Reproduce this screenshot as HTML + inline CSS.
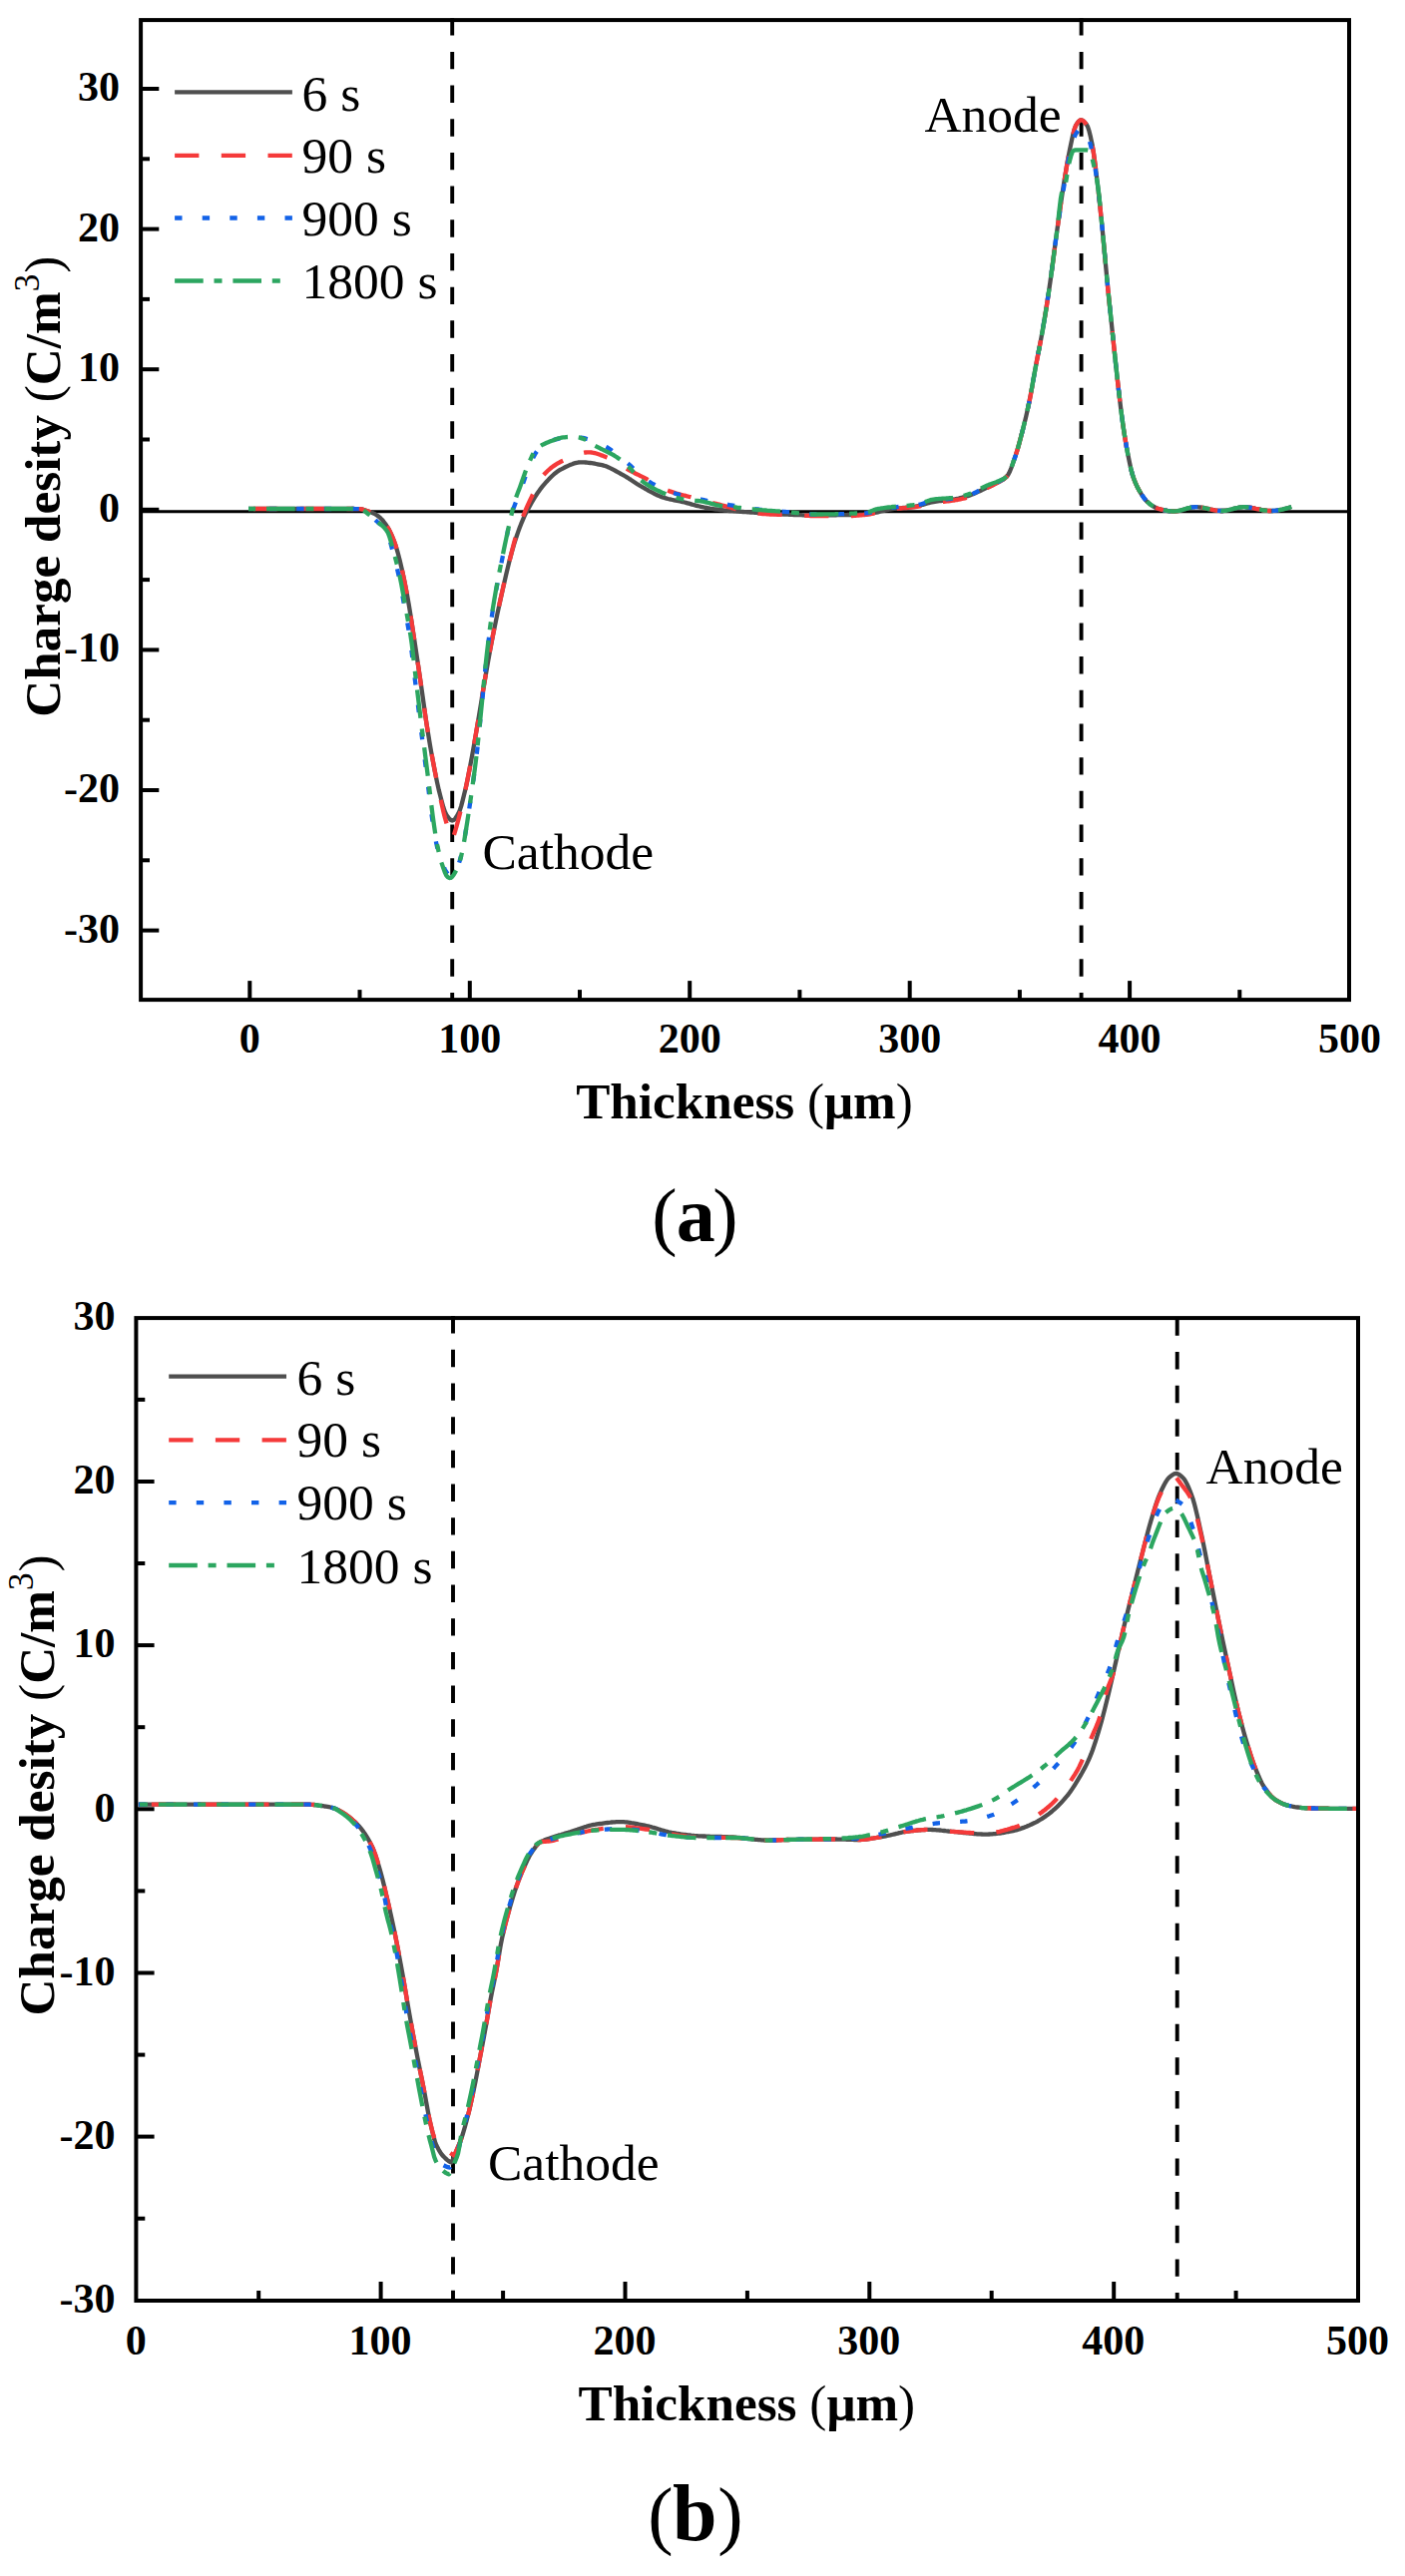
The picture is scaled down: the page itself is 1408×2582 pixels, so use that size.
<!DOCTYPE html>
<html lang="en"><head><meta charset="utf-8"><title>Charge density vs thickness</title>
<style>html,body{margin:0;padding:0;background:#fff}svg{display:block}text{font-family:"Liberation Serif","DejaVu Serif",serif;fill:#000}.tk{font-weight:bold;font-size:42px}.ax{font-weight:bold;font-size:51.2px}.ay{font-weight:bold;font-size:51.2px}.rg{font-weight:normal}.lg{font-size:51.5px}.cap{font-size:76px}</style>
</head><body>
<svg width="1408" height="2582" viewBox="0 0 1408 2582">
<rect width="1408" height="2582" fill="#fff"/>
<g id="chartA">
<line x1="141.1" y1="512.7" x2="1352.0" y2="512.7" stroke="#000" stroke-width="3.1"/>
<line x1="453.2" y1="18.2" x2="453.2" y2="1002.1" stroke="#000" stroke-width="3.9" stroke-dasharray="17.4 16.28"/>
<line x1="1083.6" y1="18.2" x2="1083.6" y2="1002.1" stroke="#000" stroke-width="3.9" stroke-dasharray="17.4 16.28"/>
<path d="M249.0 510.0L250.5 510.0L252.0 510.0L253.5 510.0L255.0 510.0L256.5 510.0L258.0 510.0L259.5 510.0L261.0 510.0L262.5 510.0L264.0 510.0L265.5 510.0L267.0 510.0L268.5 510.0L270.0 510.0L271.5 510.0L273.0 510.0L274.5 510.0L276.0 510.0L277.5 510.0L279.0 510.0L280.5 510.0L282.0 510.0L283.5 510.0L285.0 510.0L286.5 510.0L288.0 510.0L289.5 510.0L291.0 510.0L292.6 510.0L294.1 510.0L295.6 510.0L297.1 510.0L298.6 510.0L300.1 510.0L301.6 510.0L303.1 510.0L304.6 510.0L306.1 510.0L307.6 510.0L309.1 510.0L310.6 510.0L312.1 510.0L313.6 510.0L315.1 510.0L316.6 510.0L318.1 510.0L319.6 510.0L321.1 510.0L322.6 510.0L324.1 510.0L325.6 510.0L327.1 510.0L328.6 510.0L330.1 510.0L331.6 510.0L333.1 510.0L334.6 510.0L336.1 510.0L337.6 510.0L339.1 510.0L340.6 510.0L342.1 510.0L343.6 510.0L345.1 510.0L346.6 510.0L348.1 510.0L349.6 510.0L351.1 510.0L352.6 510.0L354.1 510.0L355.6 510.1L357.1 510.1L358.6 510.1L360.1 510.2L361.6 510.3L363.1 510.5L364.6 511.0L366.1 511.5L367.6 512.0L369.1 512.5L370.6 513.0L372.1 513.6L373.6 514.2L375.1 514.9L376.6 515.7L378.1 516.7L379.6 517.8L381.2 519.2L382.7 520.7L384.2 522.5L385.7 524.5L387.2 526.6L388.7 528.9L390.2 531.6L391.7 534.6L393.2 538.1L394.7 541.8L396.2 545.9L397.7 550.6L399.2 556.0L400.7 561.9L402.2 568.2L403.7 574.8L405.2 581.9L406.7 589.5L408.2 597.4L409.7 605.9L411.2 615.0L412.7 624.7L414.2 634.6L415.7 644.4L417.2 654.3L418.7 664.4L420.2 674.5L421.7 684.8L423.2 695.3L424.7 706.1L426.2 716.7L427.7 726.8L429.2 736.2L430.7 745.3L432.2 754.0L433.7 762.2L435.2 770.0L436.7 777.7L438.2 784.9L439.7 791.6L441.2 797.5L442.7 803.4L444.2 808.8L445.7 813.3L447.2 816.4L448.7 818.6L450.2 820.5L451.7 821.9L453.2 822.5L454.7 822.0L456.2 820.5L457.7 818.3L459.2 815.6L460.7 812.5L462.2 807.9L463.7 802.1L465.2 795.9L466.8 789.5L468.3 782.6L469.8 775.0L471.3 767.1L472.8 759.1L474.3 750.9L475.8 742.3L477.3 733.5L478.8 724.7L480.3 715.7L481.8 706.5L483.3 697.3L484.8 688.2L486.3 679.4L487.8 670.6L489.3 661.9L490.8 653.5L492.3 645.5L493.8 637.8L495.3 630.4L496.8 623.1L498.3 615.9L499.8 608.9L501.3 602.0L502.8 595.3L504.3 588.6L505.8 582.0L507.3 575.5L508.8 569.2L510.3 563.1L511.8 557.4L513.3 551.9L514.8 546.7L516.3 541.7L517.8 537.2L519.3 532.9L520.8 528.8L522.3 524.9L523.8 521.3L525.3 517.9L526.8 514.7L528.3 511.8L529.8 509.1L531.3 506.4L532.8 503.8L534.3 501.2L535.8 498.7L537.3 496.3L538.8 494.0L540.3 491.9L541.8 489.8L543.3 487.9L544.8 486.1L546.3 484.4L547.8 482.7L549.3 481.1L550.8 479.5L552.3 478.0L553.9 476.5L555.4 475.2L556.9 473.9L558.4 472.8L559.9 471.7L561.4 470.8L562.9 470.1L564.4 469.3L565.9 468.5L567.4 467.8L568.9 467.1L570.4 466.4L571.9 465.7L573.4 465.2L574.9 464.6L576.4 464.2L577.9 463.8L579.4 463.5L580.9 463.4L582.4 463.3L583.9 463.3L585.4 463.4L586.9 463.5L588.4 463.6L589.9 463.8L591.4 464.0L592.9 464.2L594.4 464.4L595.9 464.7L597.4 465.0L598.9 465.3L600.4 465.6L601.9 465.9L603.4 466.2L604.9 466.6L606.4 467.0L607.9 467.6L609.4 468.2L610.9 468.9L612.4 469.6L613.9 470.4L615.4 471.2L616.9 472.0L618.4 472.8L619.9 473.6L621.4 474.5L622.9 475.3L624.4 476.1L625.9 477.0L627.4 477.9L628.9 478.8L630.4 479.8L631.9 480.7L633.4 481.7L634.9 482.7L636.4 483.7L637.9 484.7L639.4 485.7L641.0 486.6L642.5 487.5L644.0 488.4L645.5 489.2L647.0 490.1L648.5 490.9L650.0 491.8L651.5 492.6L653.0 493.4L654.5 494.2L656.0 495.0L657.5 495.7L659.0 496.5L660.5 497.1L662.0 497.7L663.5 498.3L665.0 498.7L666.5 499.2L668.0 499.6L669.5 500.0L671.0 500.3L672.5 500.7L674.0 501.0L675.5 501.3L677.0 501.6L678.5 501.9L680.0 502.2L681.5 502.5L683.0 502.8L684.5 503.2L686.0 503.5L687.5 503.9L689.0 504.3L690.5 504.7L692.0 505.1L693.5 505.6L695.0 506.0L696.5 506.4L698.0 506.8L699.5 507.2L701.0 507.5L702.5 507.9L704.0 508.2L705.5 508.5L707.0 508.8L708.5 509.0L710.0 509.3L711.5 509.6L713.0 509.8L714.5 510.0L716.0 510.3L717.5 510.5L719.0 510.7L720.5 510.9L722.0 511.1L723.5 511.2L725.0 511.4L726.5 511.6L728.1 511.7L729.6 511.8L731.1 512.0L732.6 512.1L734.1 512.2L735.6 512.3L737.1 512.4L738.6 512.5L740.1 512.6L741.6 512.8L743.1 512.9L744.6 513.0L746.1 513.1L747.6 513.2L749.1 513.3L750.6 513.4L752.1 513.5L753.6 513.6L755.1 513.7L756.6 513.8L758.1 513.9L759.6 514.0L761.1 514.1L762.6 514.2L764.1 514.3L765.6 514.4L767.1 514.5L768.6 514.6L770.1 514.6L771.6 514.7L773.1 514.8L774.6 514.9L776.1 515.0L777.6 515.1L779.1 515.1L780.6 515.2L782.1 515.3L783.6 515.4L785.1 515.5L786.6 515.5L788.1 515.6L789.6 515.7L791.1 515.8L792.6 515.8L794.1 515.9L795.6 516.0L797.1 516.0L798.6 516.1L800.1 516.1L801.6 516.2L803.1 516.2L804.6 516.3L806.1 516.3L807.6 516.3L809.1 516.4L810.6 516.4L812.1 516.4L813.6 516.4L815.2 516.4L816.7 516.4L818.2 516.4L819.7 516.4L821.2 516.4L822.7 516.4L824.2 516.4L825.7 516.4L827.2 516.4L828.7 516.3L830.2 516.3L831.7 516.3L833.2 516.3L834.7 516.3L836.2 516.3L837.7 516.3L839.2 516.2L840.7 516.2L842.2 516.2L843.7 516.2L845.2 516.1L846.7 516.1L848.2 516.1L849.7 516.0L851.2 516.0L852.7 516.0L854.2 515.9L855.7 515.9L857.2 515.9L858.7 515.8L860.2 515.8L861.7 515.7L863.2 515.7L864.7 515.7L866.2 515.6L867.7 515.5L869.2 515.4L870.7 515.2L872.2 515.0L873.7 514.7L875.2 514.4L876.7 514.0L878.2 513.7L879.7 513.3L881.2 512.9L882.7 512.5L884.2 512.1L885.7 511.8L887.2 511.4L888.7 511.1L890.2 510.8L891.7 510.5L893.2 510.3L894.7 510.1L896.2 509.9L897.7 509.8L899.2 509.6L900.7 509.5L902.3 509.3L903.8 509.2L905.3 509.0L906.8 508.9L908.3 508.7L909.8 508.6L911.3 508.4L912.8 508.2L914.3 508.0L915.8 507.8L917.3 507.6L918.8 507.3L920.3 507.0L921.8 506.7L923.3 506.3L924.8 505.8L926.3 505.4L927.8 505.0L929.3 504.5L930.8 504.1L932.3 503.7L933.8 503.4L935.3 503.1L936.8 502.8L938.3 502.6L939.8 502.4L941.3 502.2L942.8 502.1L944.3 501.9L945.8 501.8L947.3 501.6L948.8 501.5L950.3 501.3L951.8 501.1L953.3 500.9L954.8 500.7L956.3 500.5L957.8 500.2L959.3 499.9L960.8 499.6L962.3 499.2L963.8 498.8L965.3 498.4L966.8 498.0L968.3 497.5L969.8 497.1L971.3 496.6L972.8 496.1L974.3 495.5L975.8 494.9L977.3 494.3L978.8 493.6L980.3 492.9L981.8 492.2L983.3 491.5L984.8 490.7L986.3 490.0L987.8 489.3L989.4 488.6L990.9 487.9L992.4 487.2L993.9 486.5L995.4 485.8L996.9 485.1L998.4 484.4L999.9 483.6L1001.4 482.8L1002.9 482.0L1004.4 481.1L1005.9 480.2L1007.4 479.0L1008.9 477.6L1010.4 475.6L1011.9 472.7L1013.4 469.0L1014.9 464.9L1016.4 460.5L1017.9 456.2L1019.4 451.5L1020.9 446.3L1022.4 440.7L1023.9 435.0L1025.4 429.1L1026.9 423.1L1028.4 416.7L1029.9 410.1L1031.4 403.0L1032.9 395.3L1034.4 387.1L1035.9 378.6L1037.4 370.2L1038.9 362.1L1040.4 354.4L1041.9 346.7L1043.4 338.8L1044.9 330.5L1046.4 321.7L1047.9 312.6L1049.4 303.0L1050.9 293.2L1052.4 282.9L1053.9 271.9L1055.4 260.5L1056.9 249.0L1058.4 237.8L1059.9 226.9L1061.4 216.0L1062.9 205.3L1064.4 195.1L1065.9 185.4L1067.4 176.0L1068.9 166.9L1070.4 158.4L1071.9 150.7L1073.4 143.5L1074.9 136.4L1076.5 130.3L1078.0 126.0L1079.5 123.6L1081.0 121.6L1082.5 120.4L1084.0 120.3L1085.5 121.1L1087.0 122.5L1088.5 124.4L1090.0 126.8L1091.5 131.4L1093.0 137.6L1094.5 144.7L1096.0 153.7L1097.5 164.7L1099.0 176.9L1100.5 189.4L1102.0 203.1L1103.5 217.7L1105.0 232.7L1106.5 248.6L1108.0 265.1L1109.5 281.3L1111.0 296.4L1112.5 311.0L1114.0 325.4L1115.5 339.7L1117.0 354.1L1118.5 368.2L1120.0 381.8L1121.5 394.9L1123.0 407.7L1124.5 419.5L1126.0 430.0L1127.5 439.6L1129.0 448.4L1130.5 456.4L1132.0 463.8L1133.5 470.6L1135.0 476.3L1136.5 480.7L1138.0 484.4L1139.5 487.7L1141.0 490.6L1142.5 493.2L1144.0 495.6L1145.5 497.8L1147.0 499.9L1148.5 501.7L1150.0 503.2L1151.5 504.5L1153.0 505.7L1154.5 506.7L1156.0 507.7L1157.5 508.5L1159.0 509.2L1160.5 509.8L1162.0 510.2L1163.6 510.6L1165.1 510.9L1166.6 511.3L1168.1 511.6L1169.6 511.9L1171.1 512.1L1172.6 512.3L1174.1 512.4L1175.6 512.5L1177.1 512.5L1178.6 512.4L1180.1 512.2L1181.6 511.9L1183.1 511.5L1184.6 511.1L1186.1 510.7L1187.6 510.2L1189.1 509.8L1190.6 509.4L1192.1 509.0L1193.6 508.7L1195.1 508.4L1196.6 508.3L1198.1 508.2L1199.6 508.2L1201.1 508.3L1202.6 508.5L1204.1 508.7L1205.6 509.0L1207.1 509.2L1208.6 509.5L1210.1 509.8L1211.6 510.2L1213.1 510.5L1214.6 510.8L1216.1 511.1L1217.6 511.4L1219.1 511.6L1220.6 511.8L1222.1 511.9L1223.6 512.0L1225.1 512.0L1226.6 511.9L1228.1 511.7L1229.6 511.5L1231.1 511.2L1232.6 510.8L1234.1 510.5L1235.6 510.1L1237.1 509.7L1238.6 509.3L1240.1 509.0L1241.6 508.7L1243.1 508.4L1244.6 508.3L1246.1 508.2L1247.6 508.2L1249.1 508.3L1250.7 508.5L1252.2 508.6L1253.7 508.9L1255.2 509.2L1256.7 509.4L1258.2 509.8L1259.7 510.1L1261.2 510.4L1262.7 510.7L1264.2 511.0L1265.7 511.3L1267.2 511.5L1268.7 511.7L1270.2 511.9L1271.7 512.0L1273.2 512.0L1274.7 512.0L1276.2 511.9L1277.7 511.8L1279.2 511.6L1280.7 511.4L1282.2 511.2L1283.7 510.9L1285.2 510.6L1286.7 510.2L1288.2 509.8L1289.7 509.4L1291.2 509.0L1292.7 508.5L1294.2 508.0" fill="none" stroke="#4F4F4F" stroke-width="4.3" stroke-linejoin="round"/>
<path d="M249.0 510.0L250.5 510.0L252.0 510.0L253.5 510.0L255.0 510.0L256.5 510.0L258.0 510.0L259.5 510.0L261.0 510.0L262.5 510.0L264.0 510.0L265.5 510.0L267.0 510.0L268.5 510.0L270.0 510.0L271.5 510.0L273.0 510.0L274.6 510.0L276.1 510.0L277.6 510.0L279.1 510.0L280.6 510.0L282.1 510.0L283.6 510.0L285.1 510.0L286.6 510.0L288.1 510.0L289.6 510.0L291.1 510.0L292.6 510.0L294.1 510.0L295.6 510.0L297.1 510.0L298.6 510.0L300.1 510.0L301.6 510.0L303.1 510.0L304.6 510.0L306.1 510.0L307.6 510.0L309.1 510.0L310.6 510.0L312.1 510.0L313.6 510.0L315.1 510.0L316.6 510.0L318.1 510.0L319.6 510.0L321.1 510.0L322.6 510.0L324.1 510.0L325.6 510.0L327.2 510.0L328.7 510.0L330.2 510.0L331.7 510.0L333.2 510.0L334.7 510.0L336.2 510.0L337.7 510.0L339.2 510.0L340.7 510.0L342.2 510.0L343.7 510.0L345.2 510.0L346.7 510.0L348.2 510.0L349.7 510.0L351.2 510.0L352.7 510.0L354.2 510.0L355.7 510.1L357.2 510.1L358.7 510.2L360.2 510.2L361.7 510.3L363.2 510.5L364.7 511.0L366.2 511.6L367.7 512.0L369.2 512.5L370.7 513.0L372.2 513.6L373.7 514.2L375.2 515.0L376.8 515.8L378.3 516.8L379.8 517.9L381.3 519.3L382.8 520.9L384.3 522.7L385.8 524.6L387.3 526.8L388.8 529.1L390.3 531.8L391.8 534.9L393.3 538.3L394.8 542.1L396.3 546.2L397.8 551.0L399.3 556.5L400.8 562.4L402.3 568.7L403.8 575.4L405.3 582.5L406.8 590.1L408.3 598.2L409.8 606.7L411.3 615.9L412.8 625.6L414.3 635.5L415.8 645.3L417.3 655.2L418.8 665.3L420.3 675.5L421.8 685.7L423.3 696.3L424.8 707.1L426.3 717.7L427.8 727.7L429.4 737.1L430.9 746.1L432.4 754.7L433.9 762.9L435.4 770.9L436.9 778.6L438.4 786.0L439.9 793.2L441.4 800.1L442.9 807.1L444.4 813.7L445.9 819.6L447.4 824.8L448.9 829.7L450.4 834.1L451.9 838.2L453.4 841.6L454.9 837.0L456.4 832.1L457.9 826.8L459.4 821.4L460.9 815.5L462.4 809.4L463.9 802.9L465.4 796.2L466.9 789.2L468.4 781.8L469.9 774.2L471.4 766.3L472.9 758.2L474.4 749.9L475.9 741.3L477.4 732.6L478.9 723.8L480.4 714.8L481.9 705.6L483.4 696.3L484.9 687.3L486.4 678.4L487.9 669.7L489.4 661.0L490.9 652.7L492.4 644.7L493.9 637.0L495.4 629.6L496.9 622.3L498.4 615.2L499.9 608.2L501.4 601.3L502.9 594.6L504.4 587.9L505.9 581.4L507.5 575.0L509.0 568.7L510.5 562.6L512.0 556.5L513.5 550.4L515.0 544.5L516.5 539.1L518.0 534.3L519.5 529.8L521.0 525.7L522.5 521.7L524.0 517.9L525.5 514.2L527.0 510.6L528.5 507.2L530.0 503.9L531.5 500.7L533.0 497.6L534.5 494.4L536.0 491.2L537.5 488.0L539.0 485.0L540.5 482.2L542.0 479.6L543.5 477.5L545.0 475.8L546.5 474.2L548.0 472.7L549.5 471.3L551.0 470.0L552.5 468.8L554.0 467.6L555.5 466.6L557.0 465.6L558.5 464.7L560.0 463.8L561.5 463.0L563.0 462.3L564.5 461.6L566.0 460.8L567.5 460.1L569.0 459.4L570.5 458.7L572.0 458.0L573.5 457.4L575.0 456.8L576.5 456.2L578.0 455.6L579.5 455.1L581.0 454.7L582.5 454.3L584.0 454.0L585.5 453.7L587.0 453.5L588.5 453.4L590.0 453.3L591.5 453.3L593.0 453.5L594.5 453.8L596.0 454.1L597.5 454.5L599.0 455.0L600.5 455.5L602.0 456.1L603.5 456.6L605.0 457.2L606.5 457.8L608.0 458.4L609.5 459.0L611.0 459.6L612.6 460.4L614.1 461.2L615.6 462.0L617.1 462.9L618.6 463.8L620.1 464.7L621.6 465.6L623.1 466.6L624.6 467.5L626.1 468.5L627.6 469.4L629.1 470.4L630.6 471.3L632.1 472.1L633.6 472.9L635.1 473.7L636.6 474.5L638.1 475.2L639.6 475.9L641.1 476.7L642.6 477.4L644.1 478.1L645.6 478.9L647.1 479.7L648.6 480.5L650.1 481.4L651.6 482.2L653.1 483.1L654.6 484.0L656.1 484.8L657.6 485.7L659.1 486.6L660.6 487.4L662.1 488.2L663.6 489.0L665.1 489.7L666.6 490.5L668.1 491.2L669.6 491.8L671.1 492.4L672.6 492.9L674.1 493.4L675.6 493.9L677.1 494.4L678.6 494.8L680.1 495.2L681.6 495.6L683.1 496.0L684.6 496.4L686.1 496.7L687.6 497.1L689.1 497.5L690.6 497.9L692.1 498.2L693.6 498.6L695.1 499.0L696.6 499.4L698.1 499.8L699.6 500.2L701.1 500.6L702.6 501.0L704.1 501.4L705.6 501.8L707.1 502.2L708.6 502.6L710.1 503.0L711.6 503.4L713.1 503.8L714.6 504.2L716.1 504.5L717.7 504.9L719.2 505.3L720.7 505.7L722.2 506.1L723.7 506.5L725.2 506.9L726.7 507.3L728.2 507.7L729.7 508.1L731.2 508.5L732.7 508.9L734.2 509.3L735.7 509.7L737.2 510.2L738.7 510.5L740.2 510.9L741.7 511.3L743.2 511.6L744.7 511.9L746.2 512.2L747.7 512.5L749.2 512.8L750.7 513.1L752.2 513.4L753.7 513.6L755.2 513.9L756.7 514.1L758.2 514.4L759.7 514.6L761.2 514.7L762.7 514.9L764.2 515.0L765.7 515.1L767.2 515.2L768.7 515.3L770.2 515.4L771.7 515.5L773.2 515.5L774.7 515.6L776.2 515.7L777.7 515.7L779.2 515.8L780.7 515.8L782.2 515.9L783.7 515.9L785.2 516.0L786.7 516.1L788.2 516.1L789.7 516.2L791.2 516.3L792.7 516.3L794.2 516.4L795.7 516.4L797.2 516.5L798.7 516.5L800.2 516.6L801.7 516.7L803.2 516.7L804.7 516.8L806.2 516.8L807.7 516.8L809.2 516.9L810.7 516.9L812.2 517.0L813.7 517.0L815.2 517.0L816.7 517.0L818.2 517.0L819.7 517.1L821.2 517.1L822.8 517.1L824.3 517.1L825.8 517.2L827.3 517.2L828.8 517.2L830.3 517.2L831.8 517.2L833.3 517.2L834.8 517.3L836.3 517.3L837.8 517.3L839.3 517.3L840.8 517.3L842.3 517.3L843.8 517.3L845.3 517.3L846.8 517.3L848.3 517.3L849.8 517.2L851.3 517.2L852.8 517.1L854.3 517.0L855.8 516.9L857.3 516.8L858.8 516.7L860.3 516.6L861.8 516.4L863.3 516.3L864.8 516.2L866.3 516.0L867.8 515.9L869.3 515.6L870.8 515.4L872.3 515.1L873.8 514.8L875.3 514.4L876.8 514.0L878.3 513.6L879.8 513.2L881.3 512.8L882.8 512.4L884.3 512.1L885.8 511.7L887.3 511.3L888.8 511.0L890.3 510.8L891.8 510.5L893.3 510.3L894.8 510.2L896.3 510.0L897.8 509.8L899.3 509.7L900.8 509.6L902.3 509.5L903.8 509.3L905.3 509.2L906.8 509.1L908.3 509.0L909.8 508.9L911.3 508.7L912.8 508.6L914.3 508.4L915.8 508.3L917.3 508.1L918.8 507.8L920.3 507.6L921.8 507.3L923.3 506.9L924.8 506.5L926.4 506.1L927.9 505.8L929.4 505.4L930.9 505.0L932.4 504.6L933.9 504.3L935.4 504.1L936.9 503.8L938.4 503.6L939.9 503.4L941.4 503.2L942.9 503.1L944.4 502.9L945.9 502.8L947.4 502.6L948.9 502.4L950.4 502.3L951.9 502.1L953.4 501.9L954.9 501.7L956.4 501.5L957.9 501.2L959.4 501.0L960.9 500.7L962.4 500.4L963.9 500.0L965.4 499.7L966.9 499.3L968.4 498.9L969.9 498.5L971.4 498.1L972.9 497.6L974.4 497.0L975.9 496.3L977.4 495.6L978.9 494.8L980.4 494.0L981.9 493.2L983.4 492.4L984.9 491.5L986.4 490.7L987.9 489.8L989.4 489.0L990.9 488.3L992.4 487.5L993.9 486.8L995.4 486.0L996.9 485.2L998.4 484.4L999.9 483.5L1001.4 482.7L1002.9 481.9L1004.4 481.1L1005.9 480.1L1007.4 479.0L1008.9 477.6L1010.4 475.5L1011.9 472.5L1013.4 468.9L1014.9 464.7L1016.4 460.4L1017.9 456.0L1019.4 451.3L1020.9 446.1L1022.4 440.5L1023.9 434.8L1025.4 428.9L1026.9 422.9L1028.4 416.5L1029.9 409.8L1031.5 402.8L1033.0 395.1L1034.5 386.8L1036.0 378.3L1037.5 369.9L1039.0 361.9L1040.5 354.1L1042.0 346.5L1043.5 338.6L1045.0 330.2L1046.5 321.4L1048.0 312.3L1049.5 302.7L1051.0 292.8L1052.5 282.5L1054.0 271.5L1055.5 260.1L1057.0 248.7L1058.5 237.5L1060.0 226.6L1061.5 215.7L1063.0 205.0L1064.5 194.8L1066.0 185.1L1067.5 175.7L1069.0 166.7L1070.5 158.2L1072.0 150.5L1073.5 143.3L1075.0 136.2L1076.5 130.1L1078.0 126.0L1079.5 123.5L1081.0 121.6L1082.5 120.4L1084.0 120.3L1085.5 121.1L1087.0 122.5L1088.5 124.5L1090.0 126.9L1091.5 131.5L1093.0 137.8L1094.5 144.9L1096.0 153.9L1097.5 165.0L1099.0 177.2L1100.5 189.8L1102.0 203.5L1103.5 218.0L1105.0 233.0L1106.5 249.0L1108.0 265.6L1109.5 281.7L1111.0 296.8L1112.5 311.4L1114.0 325.7L1115.5 340.0L1117.0 354.4L1118.5 368.6L1120.0 382.1L1121.5 395.2L1123.0 408.0L1124.5 419.7L1126.0 430.2L1127.5 439.8L1129.0 448.6L1130.5 456.5L1132.0 464.0L1133.5 470.8L1135.0 476.4L1136.6 480.8L1138.1 484.5L1139.6 487.8L1141.1 490.6L1142.6 493.2L1144.1 495.6L1145.6 497.9L1147.1 499.9L1148.6 501.7L1150.1 503.3L1151.6 504.5L1153.1 505.7L1154.6 506.7L1156.1 507.7L1157.6 508.5L1159.1 509.2L1160.6 509.8L1162.1 510.2L1163.6 510.6L1165.1 511.0L1166.6 511.3L1168.1 511.6L1169.6 511.9L1171.1 512.1L1172.6 512.3L1174.1 512.4L1175.6 512.5L1177.1 512.5L1178.6 512.4L1180.1 512.2L1181.6 511.9L1183.1 511.5L1184.6 511.1L1186.1 510.7L1187.6 510.2L1189.1 509.8L1190.6 509.4L1192.1 509.0L1193.6 508.7L1195.1 508.4L1196.6 508.3L1198.1 508.2L1199.6 508.2L1201.1 508.3L1202.6 508.5L1204.1 508.7L1205.6 509.0L1207.1 509.2L1208.6 509.5L1210.1 509.8L1211.6 510.2L1213.1 510.5L1214.6 510.8L1216.1 511.1L1217.6 511.4L1219.1 511.6L1220.6 511.8L1222.1 511.9L1223.6 512.0L1225.1 512.0L1226.6 511.9L1228.1 511.7L1229.6 511.5L1231.1 511.2L1232.6 510.8L1234.1 510.5L1235.6 510.1L1237.1 509.7L1238.6 509.3L1240.1 509.0L1241.7 508.7L1243.2 508.4L1244.7 508.3L1246.2 508.2L1247.7 508.2L1249.2 508.3L1250.7 508.5L1252.2 508.6L1253.7 508.9L1255.2 509.2L1256.7 509.4L1258.2 509.8L1259.7 510.1L1261.2 510.4L1262.7 510.7L1264.2 511.0L1265.7 511.3L1267.2 511.5L1268.7 511.7L1270.2 511.9L1271.7 512.0L1273.2 512.0L1274.7 512.0L1276.2 511.9L1277.7 511.8L1279.2 511.6L1280.7 511.4L1282.2 511.2L1283.7 510.9L1285.2 510.6L1286.7 510.2L1288.2 509.8L1289.7 509.4L1291.2 509.0L1292.7 508.5L1294.2 508.0" fill="none" stroke="#F53A3A" stroke-width="4.3" stroke-dasharray="24.3 22.4" stroke-dashoffset="-5" stroke-linejoin="round"/>
<path d="M249.0 510.0L250.5 510.0L252.0 510.0L253.5 510.0L255.0 510.0L256.5 510.0L258.0 510.0L259.5 510.0L261.0 510.0L262.5 510.0L264.0 510.0L265.5 510.0L267.0 510.0L268.5 510.0L270.0 510.0L271.5 510.0L273.0 510.0L274.5 510.0L276.0 510.0L277.5 510.0L279.0 510.0L280.5 510.0L282.0 510.0L283.5 510.0L285.0 510.0L286.5 510.0L288.0 510.0L289.5 510.0L291.0 510.0L292.6 510.0L294.1 510.0L295.6 510.0L297.1 510.0L298.6 510.0L300.1 510.0L301.6 510.0L303.1 510.0L304.6 510.0L306.1 510.0L307.6 510.0L309.1 510.0L310.6 510.0L312.1 510.0L313.6 510.0L315.1 510.0L316.6 510.0L318.1 510.0L319.6 510.0L321.1 510.0L322.6 510.0L324.1 510.0L325.6 510.0L327.1 510.0L328.6 510.0L330.1 510.0L331.6 510.0L333.1 510.0L334.6 510.0L336.1 510.0L337.6 510.0L339.1 510.0L340.6 510.0L342.1 510.0L343.6 510.0L345.1 510.0L346.6 510.0L348.1 510.0L349.6 510.0L351.1 510.0L352.6 510.0L354.1 510.0L355.6 510.1L357.1 510.1L358.6 510.1L360.1 510.2L361.6 510.3L363.1 510.6L364.6 511.5L366.1 512.8L367.6 514.0L369.1 515.1L370.6 516.3L372.1 517.6L373.6 518.9L375.1 520.3L376.6 521.7L378.1 523.0L379.6 524.3L381.2 525.6L382.7 526.9L384.2 528.5L385.7 530.3L387.2 532.4L388.7 535.5L390.2 540.0L391.7 545.5L393.2 551.2L394.7 556.8L396.2 562.6L397.7 568.7L399.2 575.3L400.7 582.4L402.2 590.4L403.7 598.9L405.2 607.5L406.7 615.8L408.2 624.0L409.7 632.7L411.2 642.5L412.7 654.1L414.2 667.1L415.7 680.0L417.2 692.5L418.7 705.0L420.2 717.4L421.7 729.5L423.2 741.4L424.7 753.3L426.2 765.2L427.7 777.1L429.2 789.3L430.7 802.1L432.2 814.1L433.7 824.7L435.2 834.6L436.7 842.8L438.2 849.4L439.7 855.0L441.2 859.8L442.7 863.9L444.2 867.7L445.7 871.2L447.2 874.0L448.7 875.8L450.2 876.8L451.7 877.6L453.2 878.0L454.7 877.2L456.2 874.7L457.7 871.2L459.2 867.4L460.7 862.9L462.2 857.4L463.7 850.9L465.2 842.4L466.8 832.8L468.3 823.4L469.8 813.6L471.3 803.6L472.8 793.3L474.3 782.6L475.8 771.7L477.3 760.0L478.8 746.8L480.3 732.3L481.8 717.3L483.3 702.2L484.8 686.5L486.3 671.3L487.8 657.6L489.3 644.6L490.8 632.6L492.3 621.7L493.8 611.8L495.3 602.6L496.8 593.9L498.3 585.7L499.8 577.8L501.3 570.2L502.8 562.6L504.3 555.2L505.8 547.9L507.3 540.5L508.8 532.8L510.3 525.2L511.8 518.6L513.3 513.5L514.8 509.0L516.3 504.9L517.8 500.9L519.3 497.1L520.8 493.4L522.3 489.7L523.8 485.6L525.3 481.3L526.8 476.9L528.3 472.6L529.8 468.6L531.3 464.9L532.8 461.6L534.3 458.7L535.8 455.9L537.3 453.4L538.8 451.3L540.3 449.7L541.8 448.3L543.3 447.0L544.8 445.8L546.3 444.8L547.8 443.8L549.3 443.0L550.8 442.3L552.3 441.7L553.9 441.2L555.4 440.8L556.9 440.4L558.4 440.1L559.9 439.7L561.4 439.4L562.9 439.2L564.4 439.0L565.9 438.9L567.4 438.8L568.9 438.7L570.4 438.7L571.9 438.6L573.4 438.6L574.9 438.6L576.4 438.5L577.9 438.5L579.4 438.5L580.9 438.5L582.4 438.7L583.9 438.9L585.4 439.2L586.9 439.6L588.4 440.0L589.9 440.4L591.4 440.8L592.9 441.3L594.4 441.7L595.9 442.3L597.4 442.9L598.9 443.5L600.4 444.2L601.9 444.9L603.4 445.6L604.9 446.4L606.4 447.3L607.9 448.1L609.4 449.1L610.9 450.1L612.4 451.1L613.9 452.2L615.4 453.3L616.9 454.5L618.4 455.7L619.9 456.9L621.4 458.1L622.9 459.3L624.4 460.5L625.9 461.7L627.4 462.9L628.9 464.2L630.4 465.5L631.9 466.9L633.4 468.3L634.9 469.7L636.4 471.2L637.9 472.7L639.4 474.1L641.0 475.5L642.5 476.9L644.0 478.2L645.5 479.4L647.0 480.6L648.5 481.6L650.0 482.5L651.5 483.4L653.0 484.3L654.5 485.1L656.0 485.9L657.5 486.7L659.0 487.5L660.5 488.2L662.0 488.9L663.5 489.6L665.0 490.3L666.5 490.9L668.0 491.5L669.5 492.1L671.0 492.7L672.5 493.2L674.0 493.7L675.5 494.2L677.0 494.7L678.5 495.2L680.0 495.6L681.5 496.0L683.0 496.4L684.5 496.8L686.0 497.1L687.5 497.5L689.0 497.8L690.5 498.1L692.0 498.5L693.5 498.8L695.0 499.1L696.5 499.4L698.0 499.7L699.5 500.0L701.0 500.3L702.5 500.6L704.0 500.9L705.5 501.2L707.0 501.5L708.5 501.9L710.0 502.2L711.5 502.4L713.0 502.7L714.5 503.0L716.0 503.3L717.5 503.6L719.0 503.9L720.5 504.2L722.0 504.4L723.5 504.7L725.0 505.0L726.5 505.3L728.1 505.5L729.6 505.8L731.1 506.1L732.6 506.3L734.1 506.6L735.6 506.9L737.1 507.1L738.6 507.4L740.1 507.6L741.6 507.9L743.1 508.2L744.6 508.4L746.1 508.7L747.6 508.9L749.1 509.2L750.6 509.4L752.1 509.6L753.6 509.8L755.1 510.0L756.6 510.2L758.1 510.4L759.6 510.5L761.1 510.7L762.6 510.8L764.1 511.0L765.6 511.1L767.1 511.3L768.6 511.4L770.1 511.5L771.6 511.7L773.1 511.8L774.6 511.9L776.1 512.0L777.6 512.2L779.1 512.3L780.6 512.4L782.1 512.5L783.6 512.7L785.1 512.8L786.6 512.9L788.1 513.1L789.6 513.2L791.1 513.4L792.6 513.5L794.1 513.7L795.6 513.9L797.1 514.1L798.6 514.2L800.1 514.4L801.6 514.6L803.1 514.8L804.6 514.9L806.1 515.0L807.6 515.2L809.1 515.3L810.6 515.4L812.1 515.4L813.6 515.5L815.2 515.5L816.7 515.5L818.2 515.5L819.7 515.5L821.2 515.5L822.7 515.5L824.2 515.5L825.7 515.5L827.2 515.5L828.7 515.4L830.2 515.4L831.7 515.4L833.2 515.4L834.7 515.4L836.2 515.3L837.7 515.3L839.2 515.3L840.7 515.3L842.2 515.2L843.7 515.2L845.2 515.2L846.7 515.1L848.2 515.1L849.7 515.1L851.2 515.0L852.7 515.0L854.2 514.9L855.7 514.9L857.2 514.8L858.7 514.8L860.2 514.7L861.7 514.7L863.2 514.6L864.7 514.6L866.2 514.5L867.7 514.4L869.2 514.2L870.7 514.0L872.2 513.7L873.7 513.4L875.2 513.0L876.7 512.6L878.2 512.2L879.7 511.8L881.2 511.4L882.7 511.0L884.2 510.7L885.7 510.4L887.2 510.1L888.7 509.8L890.2 509.5L891.7 509.2L893.2 509.0L894.7 508.7L896.2 508.5L897.7 508.3L899.2 508.1L900.7 507.9L902.3 507.8L903.8 507.6L905.3 507.5L906.8 507.4L908.3 507.3L909.8 507.2L911.3 507.1L912.8 507.0L914.3 506.9L915.8 506.7L917.3 506.6L918.8 506.4L920.3 506.0L921.8 505.7L923.3 505.2L924.8 504.7L926.3 504.2L927.8 503.7L929.3 503.2L930.8 502.7L932.3 502.2L933.8 501.9L935.3 501.6L936.8 501.3L938.3 501.2L939.8 501.0L941.3 500.9L942.8 500.7L944.3 500.6L945.8 500.5L947.3 500.4L948.8 500.3L950.3 500.1L951.8 500.0L953.3 499.9L954.8 499.7L956.3 499.5L957.8 499.3L959.3 499.0L960.8 498.7L962.3 498.4L963.8 498.1L965.3 497.7L966.8 497.4L968.3 496.9L969.8 496.5L971.3 496.1L972.8 495.6L974.3 495.0L975.8 494.4L977.3 493.7L978.8 493.0L980.3 492.2L981.8 491.4L983.3 490.6L984.8 489.8L986.3 489.0L987.8 488.3L989.4 487.6L990.9 486.9L992.4 486.3L993.9 485.7L995.4 485.1L996.9 484.5L998.4 483.8L999.9 483.1L1001.4 482.3L1002.9 481.6L1004.4 480.9L1005.9 480.0L1007.4 478.9L1008.9 477.6L1010.4 475.7L1011.9 472.7L1013.4 469.1L1014.9 464.9L1016.4 460.5L1017.9 456.2L1019.4 451.5L1020.9 446.3L1022.4 440.7L1023.9 435.0L1025.4 429.1L1026.9 423.1L1028.4 416.7L1029.9 410.1L1031.4 403.0L1032.9 395.3L1034.4 387.1L1035.9 378.6L1037.4 370.2L1038.9 362.1L1040.4 354.4L1041.9 346.7L1043.4 338.8L1044.9 330.5L1046.4 321.7L1047.9 312.6L1049.4 303.0L1050.9 293.2L1052.4 282.9L1053.9 271.8L1055.4 260.2L1056.9 248.7L1058.4 237.8L1059.9 227.5L1061.4 217.5L1062.9 207.8L1064.4 198.4L1065.9 189.2L1067.4 179.9L1068.9 170.6L1070.4 161.9L1071.9 154.4L1073.4 148.2L1074.9 142.6L1076.5 137.8L1078.0 134.4L1079.5 132.2L1081.0 130.3L1082.5 129.2L1084.0 129.1L1085.5 129.9L1087.0 131.4L1088.5 133.3L1090.0 135.8L1091.5 140.2L1093.0 145.8L1094.5 152.0L1096.0 159.6L1097.5 168.5L1099.0 178.6L1100.5 189.7L1102.0 202.8L1103.5 217.6L1105.0 232.6L1106.5 248.6L1108.0 265.1L1109.5 281.3L1111.0 296.4L1112.5 311.0L1114.0 325.4L1115.5 339.7L1117.0 354.1L1118.5 368.2L1120.0 381.8L1121.5 394.9L1123.0 407.7L1124.5 419.5L1126.0 430.0L1127.5 439.6L1129.0 448.4L1130.5 456.4L1132.0 463.8L1133.5 470.6L1135.0 476.3L1136.5 480.7L1138.0 484.4L1139.5 487.7L1141.0 490.6L1142.5 493.2L1144.0 495.6L1145.5 497.8L1147.0 499.9L1148.5 501.7L1150.0 503.2L1151.5 504.5L1153.0 505.7L1154.5 506.7L1156.0 507.7L1157.5 508.5L1159.0 509.2L1160.5 509.8L1162.0 510.2L1163.6 510.6L1165.1 510.9L1166.6 511.3L1168.1 511.6L1169.6 511.9L1171.1 512.1L1172.6 512.3L1174.1 512.4L1175.6 512.5L1177.1 512.5L1178.6 512.4L1180.1 512.2L1181.6 511.9L1183.1 511.5L1184.6 511.1L1186.1 510.7L1187.6 510.2L1189.1 509.8L1190.6 509.4L1192.1 509.0L1193.6 508.7L1195.1 508.4L1196.6 508.3L1198.1 508.2L1199.6 508.2L1201.1 508.3L1202.6 508.5L1204.1 508.7L1205.6 509.0L1207.1 509.2L1208.6 509.5L1210.1 509.8L1211.6 510.2L1213.1 510.5L1214.6 510.8L1216.1 511.1L1217.6 511.4L1219.1 511.6L1220.6 511.8L1222.1 511.9L1223.6 512.0L1225.1 512.0L1226.6 511.9L1228.1 511.7L1229.6 511.5L1231.1 511.2L1232.6 510.8L1234.1 510.5L1235.6 510.1L1237.1 509.7L1238.6 509.3L1240.1 509.0L1241.6 508.7L1243.1 508.4L1244.6 508.3L1246.1 508.2L1247.6 508.2L1249.1 508.3L1250.7 508.5L1252.2 508.6L1253.7 508.9L1255.2 509.2L1256.7 509.4L1258.2 509.8L1259.7 510.1L1261.2 510.4L1262.7 510.7L1264.2 511.0L1265.7 511.3L1267.2 511.5L1268.7 511.7L1270.2 511.9L1271.7 512.0L1273.2 512.0L1274.7 512.0L1276.2 511.9L1277.7 511.8L1279.2 511.6L1280.7 511.4L1282.2 511.2L1283.7 510.9L1285.2 510.6L1286.7 510.2L1288.2 509.8L1289.7 509.4L1291.2 509.0L1292.7 508.5L1294.2 508.0" fill="none" stroke="#1262E8" stroke-width="4.3" stroke-dasharray="7.4 20.2" stroke-dashoffset="7" stroke-linejoin="round"/>
<path d="M249.0 510.0L250.5 510.0L252.0 510.0L253.5 510.0L255.0 510.0L256.5 510.0L258.0 510.0L259.5 510.0L261.0 510.0L262.5 510.0L264.0 510.0L265.5 510.0L267.0 510.0L268.5 510.0L270.0 510.0L271.5 510.0L273.0 510.0L274.5 510.0L276.0 510.0L277.5 510.0L279.0 510.0L280.5 510.0L282.0 510.0L283.5 510.0L285.0 510.0L286.5 510.0L288.0 510.0L289.5 510.0L291.1 510.0L292.6 510.0L294.1 510.0L295.6 510.0L297.1 510.0L298.6 510.0L300.1 510.0L301.6 510.0L303.1 510.0L304.6 510.0L306.1 510.0L307.6 510.0L309.1 510.0L310.6 510.0L312.1 510.0L313.6 510.0L315.1 510.0L316.6 510.0L318.1 510.0L319.6 510.0L321.1 510.0L322.6 510.0L324.1 510.0L325.6 510.0L327.1 510.0L328.6 510.0L330.1 510.0L331.6 510.0L333.1 510.0L334.6 510.0L336.1 510.0L337.6 510.0L339.1 510.0L340.6 510.0L342.1 510.0L343.6 510.0L345.1 510.0L346.6 510.0L348.1 510.0L349.6 510.0L351.1 510.0L352.6 510.0L354.1 510.0L355.6 510.1L357.1 510.1L358.6 510.1L360.1 510.2L361.6 510.3L363.1 510.6L364.6 511.5L366.1 512.8L367.6 514.0L369.1 515.2L370.6 516.4L372.1 517.6L373.7 519.0L375.2 520.3L376.7 521.7L378.2 523.0L379.7 524.2L381.2 525.4L382.7 526.6L384.2 528.0L385.7 529.6L387.2 531.5L388.7 533.8L390.2 537.6L391.7 542.7L393.2 548.3L394.7 553.9L396.2 559.4L397.7 565.2L399.2 571.4L400.7 578.1L402.2 585.4L403.7 593.5L405.2 601.9L406.7 610.3L408.2 618.4L409.7 626.5L411.2 635.3L412.7 645.5L414.2 657.9L415.7 671.4L417.2 684.3L418.7 696.8L420.2 709.3L421.7 721.6L423.2 733.6L424.7 745.5L426.2 757.4L427.7 769.3L429.2 781.2L430.7 793.6L432.2 806.2L433.7 817.9L435.2 828.8L436.7 838.8L438.2 847.0L439.7 854.1L441.2 860.2L442.7 865.3L444.2 869.9L445.7 874.1L447.2 877.3L448.7 879.1L450.2 880.0L451.7 879.9L453.2 878.8L454.7 876.8L456.2 874.1L457.8 871.2L459.3 867.8L460.8 863.2L462.3 857.5L463.8 850.8L465.3 842.3L466.8 832.9L468.3 823.5L469.8 813.6L471.3 803.5L472.8 792.9L474.3 782.1L475.8 771.0L477.3 759.1L478.8 745.6L480.3 731.0L481.8 716.0L483.3 700.7L484.8 685.0L486.3 669.8L487.8 656.1L489.3 643.2L490.8 631.2L492.3 620.4L493.8 610.5L495.3 601.4L496.8 592.7L498.3 584.5L499.8 576.7L501.3 569.1L502.8 561.5L504.3 554.0L505.8 546.7L507.3 539.6L508.8 532.6L510.3 525.7L511.8 519.1L513.3 512.6L514.8 506.4L516.3 501.1L517.8 496.7L519.3 492.8L520.8 488.9L522.3 484.8L523.8 480.5L525.3 476.2L526.8 472.0L528.3 468.0L529.8 464.5L531.3 461.1L532.8 457.8L534.3 454.7L535.8 452.1L537.3 450.2L538.8 448.9L540.4 447.8L541.9 446.8L543.4 445.9L544.9 445.2L546.4 444.5L547.9 443.8L549.4 443.2L550.9 442.6L552.4 442.0L553.9 441.5L555.4 440.9L556.9 440.3L558.4 439.8L559.9 439.3L561.4 439.0L562.9 438.6L564.4 438.4L565.9 438.3L567.4 438.1L568.9 438.0L570.4 437.9L571.9 437.8L573.4 437.7L574.9 437.7L576.4 437.8L577.9 438.0L579.4 438.3L580.9 438.6L582.4 439.1L583.9 439.6L585.4 440.2L586.9 440.7L588.4 441.4L589.9 442.2L591.4 443.3L592.9 444.4L594.4 445.5L595.9 446.5L597.4 447.3L598.9 448.1L600.4 448.9L601.9 449.7L603.4 450.4L604.9 451.1L606.4 451.9L607.9 452.6L609.4 453.3L610.9 454.1L612.4 454.9L613.9 455.7L615.4 456.5L616.9 457.5L618.4 458.4L619.9 459.5L621.4 460.6L623.0 461.8L624.5 463.0L626.0 464.3L627.5 465.7L629.0 467.1L630.5 468.5L632.0 470.0L633.5 471.7L635.0 473.5L636.5 475.4L638.0 477.2L639.5 478.9L641.0 480.4L642.5 481.5L644.0 482.6L645.5 483.7L647.0 484.7L648.5 485.7L650.0 486.7L651.5 487.6L653.0 488.5L654.5 489.3L656.0 490.1L657.5 490.9L659.0 491.6L660.5 492.3L662.0 493.0L663.5 493.7L665.0 494.3L666.5 494.9L668.0 495.5L669.5 496.1L671.0 496.6L672.5 497.2L674.0 497.7L675.5 498.1L677.0 498.6L678.5 499.0L680.0 499.4L681.5 499.7L683.0 500.0L684.5 500.3L686.0 500.5L687.5 500.7L689.0 500.9L690.5 501.0L692.0 501.2L693.5 501.4L695.0 501.5L696.5 501.7L698.0 501.8L699.5 502.0L701.0 502.2L702.5 502.4L704.0 502.7L705.6 503.0L707.1 503.3L708.6 503.7L710.1 504.0L711.6 504.4L713.1 504.8L714.6 505.2L716.1 505.6L717.6 506.0L719.1 506.3L720.6 506.7L722.1 507.0L723.6 507.2L725.1 507.5L726.6 507.7L728.1 507.8L729.6 508.0L731.1 508.1L732.6 508.2L734.1 508.3L735.6 508.4L737.1 508.5L738.6 508.7L740.1 508.8L741.6 508.9L743.1 509.1L744.6 509.3L746.1 509.4L747.6 509.6L749.1 509.8L750.6 510.0L752.1 510.2L753.6 510.4L755.1 510.5L756.6 510.7L758.1 510.8L759.6 511.0L761.1 511.1L762.6 511.2L764.1 511.3L765.6 511.4L767.1 511.5L768.6 511.7L770.1 511.8L771.6 511.9L773.1 512.0L774.6 512.1L776.1 512.2L777.6 512.3L779.1 512.4L780.6 512.5L782.1 512.6L783.6 512.7L785.1 512.8L786.6 512.9L788.2 513.1L789.7 513.2L791.2 513.3L792.7 513.5L794.2 513.7L795.7 513.9L797.2 514.0L798.7 514.2L800.2 514.4L801.7 514.6L803.2 514.7L804.7 514.9L806.2 515.0L807.7 515.2L809.2 515.3L810.7 515.4L812.2 515.4L813.7 515.5L815.2 515.5L816.7 515.5L818.2 515.5L819.7 515.5L821.2 515.5L822.7 515.5L824.2 515.5L825.7 515.4L827.2 515.4L828.7 515.4L830.2 515.4L831.7 515.4L833.2 515.3L834.7 515.3L836.2 515.3L837.7 515.2L839.2 515.2L840.7 515.2L842.2 515.1L843.7 515.1L845.2 515.0L846.7 515.0L848.2 514.9L849.7 514.9L851.2 514.8L852.7 514.7L854.2 514.7L855.7 514.6L857.2 514.5L858.7 514.4L860.2 514.4L861.7 514.3L863.2 514.2L864.7 514.1L866.2 514.0L867.7 513.9L869.2 513.5L870.8 513.1L872.3 512.6L873.8 512.0L875.3 511.4L876.8 510.9L878.3 510.4L879.8 510.0L881.3 509.8L882.8 509.5L884.3 509.3L885.8 509.1L887.3 508.9L888.8 508.7L890.3 508.5L891.8 508.3L893.3 508.2L894.8 508.0L896.3 507.9L897.8 507.7L899.3 507.6L900.8 507.4L902.3 507.3L903.8 507.2L905.3 507.1L906.8 507.0L908.3 506.9L909.8 506.8L911.3 506.6L912.8 506.5L914.3 506.4L915.8 506.2L917.3 506.1L918.8 505.8L920.3 505.5L921.8 505.1L923.3 504.6L924.8 504.0L926.3 503.4L927.8 502.8L929.3 502.3L930.8 501.7L932.3 501.2L933.8 500.8L935.3 500.6L936.8 500.4L938.3 500.2L939.8 500.1L941.3 499.9L942.8 499.8L944.3 499.7L945.8 499.6L947.3 499.6L948.8 499.5L950.3 499.4L951.8 499.2L953.3 499.1L954.9 499.0L956.4 498.8L957.9 498.6L959.4 498.3L960.9 498.0L962.4 497.7L963.9 497.3L965.4 496.9L966.9 496.5L968.4 496.0L969.9 495.6L971.4 495.1L972.9 494.6L974.4 494.0L975.9 493.3L977.4 492.6L978.9 491.8L980.4 491.1L981.9 490.3L983.4 489.5L984.9 488.7L986.4 487.9L987.9 487.2L989.4 486.5L990.9 485.9L992.4 485.4L993.9 484.8L995.4 484.3L996.9 483.8L998.4 483.2L999.9 482.5L1001.4 481.9L1002.9 481.2L1004.4 480.6L1005.9 479.8L1007.4 478.8L1008.9 477.6L1010.4 475.7L1011.9 472.7L1013.4 469.0L1014.9 464.8L1016.4 460.4L1017.9 456.0L1019.4 451.3L1020.9 446.1L1022.4 440.5L1023.9 434.8L1025.4 428.9L1026.9 422.9L1028.4 416.5L1029.9 409.9L1031.4 402.8L1032.9 395.1L1034.4 386.8L1035.9 378.3L1037.5 369.9L1039.0 361.9L1040.5 354.2L1042.0 346.5L1043.5 338.6L1045.0 330.3L1046.5 321.4L1048.0 312.3L1049.5 302.7L1051.0 292.8L1052.5 282.5L1054.0 271.6L1055.5 260.1L1057.0 248.7L1058.5 237.5L1060.0 225.2L1061.5 211.2L1063.0 198.6L1064.5 190.4L1066.0 188.8L1067.5 186.5L1069.0 177.4L1070.5 167.4L1072.0 161.0L1073.5 155.4L1075.0 151.6L1076.5 150.7L1078.0 150.4L1079.6 150.4L1081.3 150.4L1082.9 150.4L1084.6 150.4L1086.2 150.4L1087.9 150.4L1089.5 150.4L1091.0 150.7L1092.5 151.7L1094.0 156.4L1095.5 163.0L1097.0 169.3L1098.5 176.4L1100.0 185.0L1101.5 196.4L1103.0 211.9L1104.6 228.3L1106.1 244.2L1107.6 260.6L1109.1 276.9L1110.6 292.3L1112.1 307.0L1113.6 321.5L1115.1 335.8L1116.6 350.2L1118.1 364.5L1119.6 378.3L1121.1 391.5L1122.6 404.4L1124.1 416.6L1125.6 427.4L1127.1 437.3L1128.6 446.3L1130.1 454.5L1131.6 462.0L1133.1 469.1L1134.7 475.1L1136.2 479.7L1137.7 483.6L1139.2 487.0L1140.7 490.0L1142.2 492.6L1143.7 495.0L1145.2 497.3L1146.7 499.4L1148.2 501.3L1149.7 502.9L1151.2 504.2L1152.7 505.4L1154.2 506.5L1155.7 507.5L1157.2 508.4L1158.7 509.1L1160.2 509.7L1161.7 510.1L1163.3 510.5L1164.8 510.9L1166.3 511.2L1167.8 511.5L1169.3 511.8L1170.8 512.1L1172.3 512.3L1173.8 512.4L1175.3 512.5L1176.8 512.5L1178.3 512.4L1179.8 512.2L1181.3 511.9L1182.8 511.6L1184.3 511.2L1185.8 510.8L1187.3 510.3L1188.8 509.9L1190.3 509.4L1191.8 509.0L1193.4 508.7L1194.9 508.4L1196.4 508.3L1197.9 508.2L1199.4 508.2L1200.9 508.3L1202.4 508.5L1203.9 508.7L1205.4 508.9L1206.9 509.2L1208.4 509.5L1209.9 509.8L1211.4 510.1L1212.9 510.4L1214.4 510.8L1215.9 511.1L1217.4 511.3L1218.9 511.6L1220.4 511.8L1222.0 511.9L1223.5 512.0L1225.0 512.0L1226.5 511.9L1228.0 511.8L1229.5 511.5L1231.0 511.2L1232.5 510.9L1234.0 510.5L1235.5 510.1L1237.0 509.7L1238.5 509.3L1240.0 509.0L1241.5 508.7L1243.0 508.5L1244.5 508.3L1246.0 508.2L1247.5 508.2L1249.0 508.3L1250.6 508.4L1252.1 508.6L1253.6 508.9L1255.1 509.1L1256.6 509.4L1258.1 509.7L1259.6 510.1L1261.1 510.4L1262.6 510.7L1264.1 511.0L1265.6 511.3L1267.1 511.5L1268.6 511.7L1270.1 511.9L1271.6 512.0L1273.1 512.0L1274.6 512.0L1276.1 511.9L1277.6 511.8L1279.1 511.6L1280.7 511.4L1282.2 511.2L1283.7 510.9L1285.2 510.6L1286.7 510.2L1288.2 509.8L1289.7 509.4L1291.2 509.0L1292.7 508.5L1294.2 508.0" fill="none" stroke="#2CA660" stroke-width="4.3" stroke-dasharray="28.6 10.8 8 10.9" stroke-dashoffset="-18" stroke-linejoin="round"/>
<line x1="141.1" y1="932.6" x2="159.3" y2="932.6" stroke="#000" stroke-width="4.0"/>
<line x1="141.1" y1="792.0" x2="159.3" y2="792.0" stroke="#000" stroke-width="4.0"/>
<line x1="141.1" y1="651.4" x2="159.3" y2="651.4" stroke="#000" stroke-width="4.0"/>
<line x1="141.1" y1="510.8" x2="159.3" y2="510.8" stroke="#000" stroke-width="4.0"/>
<line x1="141.1" y1="370.2" x2="159.3" y2="370.2" stroke="#000" stroke-width="4.0"/>
<line x1="141.1" y1="229.6" x2="159.3" y2="229.6" stroke="#000" stroke-width="4.0"/>
<line x1="141.1" y1="89.0" x2="159.3" y2="89.0" stroke="#000" stroke-width="4.0"/>
<line x1="141.1" y1="862.3" x2="150.0" y2="862.3" stroke="#000" stroke-width="4.0"/>
<line x1="141.1" y1="721.7" x2="150.0" y2="721.7" stroke="#000" stroke-width="4.0"/>
<line x1="141.1" y1="581.1" x2="150.0" y2="581.1" stroke="#000" stroke-width="4.0"/>
<line x1="141.1" y1="440.5" x2="150.0" y2="440.5" stroke="#000" stroke-width="4.0"/>
<line x1="141.1" y1="299.9" x2="150.0" y2="299.9" stroke="#000" stroke-width="4.0"/>
<line x1="141.1" y1="159.3" x2="150.0" y2="159.3" stroke="#000" stroke-width="4.0"/>
<line x1="250.3" y1="1002.1" x2="250.3" y2="983.1" stroke="#000" stroke-width="4.0"/>
<line x1="470.8" y1="1002.1" x2="470.8" y2="983.1" stroke="#000" stroke-width="4.0"/>
<line x1="691.2" y1="1002.1" x2="691.2" y2="983.1" stroke="#000" stroke-width="4.0"/>
<line x1="911.7" y1="1002.1" x2="911.7" y2="983.1" stroke="#000" stroke-width="4.0"/>
<line x1="1132.1" y1="1002.1" x2="1132.1" y2="983.1" stroke="#000" stroke-width="4.0"/>
<line x1="360.5" y1="1002.1" x2="360.5" y2="992.1" stroke="#000" stroke-width="4.0"/>
<line x1="581.0" y1="1002.1" x2="581.0" y2="992.1" stroke="#000" stroke-width="4.0"/>
<line x1="801.4" y1="1002.1" x2="801.4" y2="992.1" stroke="#000" stroke-width="4.0"/>
<line x1="1021.9" y1="1002.1" x2="1021.9" y2="992.1" stroke="#000" stroke-width="4.0"/>
<line x1="1242.3" y1="1002.1" x2="1242.3" y2="992.1" stroke="#000" stroke-width="4.0"/>
<rect x="141.1" y="20.1" width="1210.9" height="982.0" fill="none" stroke="#000" stroke-width="4.0"/>
<text class="tk" x="119.9" y="944.6" text-anchor="end">-30</text>
<text class="tk" x="119.9" y="804.0" text-anchor="end">-20</text>
<text class="tk" x="119.9" y="663.4" text-anchor="end">-10</text>
<text class="tk" x="119.9" y="522.8" text-anchor="end">0</text>
<text class="tk" x="119.9" y="382.2" text-anchor="end">10</text>
<text class="tk" x="119.9" y="241.6" text-anchor="end">20</text>
<text class="tk" x="119.9" y="101.0" text-anchor="end">30</text>
<text class="tk" x="250.3" y="1055.2" text-anchor="middle">0</text>
<text class="tk" x="470.8" y="1055.2" text-anchor="middle">100</text>
<text class="tk" x="691.2" y="1055.2" text-anchor="middle">200</text>
<text class="tk" x="911.7" y="1055.2" text-anchor="middle">300</text>
<text class="tk" x="1132.1" y="1055.2" text-anchor="middle">400</text>
<text class="tk" x="1352.5" y="1055.2" text-anchor="middle">500</text>
<text class="ax" x="746" y="1121" text-anchor="middle">Thickness <tspan class="rg">(</tspan>μm<tspan class="rg">)</tspan></text>
<text class="ay" transform="translate(60.2 487.8) rotate(-90)" text-anchor="middle">Charge desity <tspan class="rg">(</tspan>C/m<tspan class="rg" font-size="35px" dy="-21">3</tspan><tspan class="rg" dy="21" dx="1">)</tspan></text>
<line x1="175.1" y1="92.4" x2="292.9" y2="92.4" stroke="#4F4F4F" stroke-width="4.3"/>
<line x1="175.1" y1="155.9" x2="292.9" y2="155.9" stroke="#F53A3A" stroke-width="4.3" stroke-dasharray="24.3 22.4"/>
<line x1="175.1" y1="218.5" x2="292.9" y2="218.5" stroke="#1262E8" stroke-width="4.3" stroke-dasharray="7.4 20.2"/>
<line x1="175.1" y1="281.5" x2="291.0" y2="281.5" stroke="#2CA660" stroke-width="4.3" stroke-dasharray="28.6 10.8 8 10.9"/>
<text class="lg" x="302.6" y="110.5">6 s</text>
<text class="lg" x="302.6" y="172.7">90 s</text>
<text class="lg" x="302.6" y="235.8">900 s</text>
<text class="lg" x="302.6" y="299.1">1800 s</text>
<text class="lg" x="926.4" y="132.4">Anode</text>
<text class="lg" x="483.5" y="871.2">Cathode</text>
<text class="cap" x="666" y="1243.5" text-anchor="middle">(</text><text class="cap" x="697.3" y="1243.6" text-anchor="middle" font-weight="bold" style="font-size:78px">a</text><text class="cap" x="727" y="1243.5" text-anchor="middle">)</text>
</g>
<g id="chartB">
<line x1="454.0" y1="1319.1" x2="454.0" y2="2306.0" stroke="#000" stroke-width="3.9" stroke-dasharray="17.4 16.28"/>
<line x1="1179.7" y1="1321.4" x2="1179.7" y2="2306.0" stroke="#000" stroke-width="3.9" stroke-dasharray="17.4 16.28"/>
<path d="M138.8 1808.7L140.3 1808.7L141.8 1808.7L143.3 1808.7L144.8 1808.7L146.3 1808.7L147.8 1808.7L149.3 1808.7L150.8 1808.7L152.3 1808.7L153.8 1808.7L155.3 1808.7L156.8 1808.7L158.3 1808.7L159.8 1808.7L161.4 1808.7L162.9 1808.7L164.4 1808.7L165.9 1808.7L167.4 1808.7L168.9 1808.7L170.4 1808.7L171.9 1808.7L173.4 1808.7L174.9 1808.7L176.4 1808.7L177.9 1808.7L179.4 1808.7L180.9 1808.7L182.4 1808.7L183.9 1808.7L185.4 1808.7L186.9 1808.7L188.4 1808.7L189.9 1808.7L191.4 1808.7L192.9 1808.7L194.4 1808.7L195.9 1808.7L197.4 1808.7L198.9 1808.7L200.4 1808.7L201.9 1808.7L203.5 1808.7L205.0 1808.7L206.5 1808.7L208.0 1808.7L209.5 1808.7L211.0 1808.7L212.5 1808.7L214.0 1808.7L215.5 1808.7L217.0 1808.7L218.5 1808.7L220.0 1808.7L221.5 1808.7L223.0 1808.7L224.5 1808.7L226.0 1808.7L227.5 1808.7L229.0 1808.7L230.5 1808.7L232.0 1808.7L233.5 1808.7L235.0 1808.7L236.5 1808.7L238.0 1808.7L239.5 1808.7L241.0 1808.7L242.5 1808.7L244.0 1808.7L245.6 1808.7L247.1 1808.7L248.6 1808.7L250.1 1808.7L251.6 1808.7L253.1 1808.7L254.6 1808.7L256.1 1808.7L257.6 1808.7L259.1 1808.7L260.6 1808.7L262.1 1808.7L263.6 1808.7L265.1 1808.7L266.6 1808.7L268.1 1808.7L269.6 1808.7L271.1 1808.7L272.6 1808.7L274.1 1808.7L275.6 1808.7L277.1 1808.7L278.6 1808.7L280.1 1808.7L281.6 1808.7L283.1 1808.7L284.6 1808.7L286.1 1808.7L287.6 1808.7L289.2 1808.7L290.7 1808.7L292.2 1808.7L293.7 1808.7L295.2 1808.7L296.7 1808.7L298.2 1808.7L299.7 1808.7L301.2 1808.7L302.7 1808.7L304.2 1808.7L305.7 1808.7L307.2 1808.7L308.7 1808.7L310.2 1808.7L311.7 1808.8L313.2 1808.9L314.7 1809.0L316.2 1809.2L317.7 1809.4L319.2 1809.6L320.7 1809.8L322.2 1810.0L323.7 1810.2L325.2 1810.5L326.7 1810.7L328.2 1810.9L329.7 1811.2L331.3 1811.5L332.8 1811.9L334.3 1812.3L335.8 1812.8L337.3 1813.4L338.8 1814.1L340.3 1814.9L341.8 1815.8L343.3 1816.7L344.8 1817.6L346.3 1818.6L347.8 1819.7L349.3 1820.8L350.8 1822.0L352.3 1823.2L353.8 1824.5L355.3 1825.8L356.8 1827.3L358.3 1828.8L359.8 1830.5L361.3 1832.2L362.8 1834.1L364.3 1836.1L365.8 1838.3L367.3 1840.6L368.8 1843.1L370.3 1845.8L371.8 1848.7L373.4 1851.9L374.9 1855.6L376.4 1859.8L377.9 1864.5L379.4 1869.5L380.9 1874.6L382.4 1880.0L383.9 1885.9L385.4 1892.1L386.9 1898.4L388.4 1904.8L389.9 1911.3L391.4 1917.9L392.9 1924.6L394.4 1931.6L395.9 1938.9L397.4 1946.4L398.9 1954.2L400.4 1962.3L401.9 1970.4L403.4 1978.7L404.9 1987.2L406.4 1996.0L407.9 2004.8L409.4 2013.5L410.9 2022.0L412.4 2030.4L413.9 2038.8L415.5 2047.0L417.0 2055.1L418.5 2062.9L420.0 2070.5L421.5 2077.9L423.0 2085.3L424.5 2092.8L426.0 2100.6L427.5 2109.0L429.0 2117.2L430.5 2124.7L432.0 2131.4L433.5 2137.6L435.0 2143.3L436.5 2148.5L438.1 2151.8L439.7 2154.8L441.3 2157.4L442.9 2159.7L444.5 2161.5L446.1 2163.1L447.7 2164.6L449.3 2165.9L450.9 2166.9L452.5 2167.5L454.0 2164.0L455.5 2160.4L457.0 2156.8L458.5 2153.3L460.0 2149.7L461.5 2145.9L463.0 2141.5L464.5 2136.7L466.0 2131.5L467.5 2126.0L469.0 2120.2L470.5 2114.2L472.0 2107.6L473.5 2100.7L475.0 2093.5L476.5 2086.2L478.0 2078.4L479.5 2070.4L481.0 2062.4L482.5 2054.6L484.0 2046.7L485.5 2038.7L487.0 2030.4L488.5 2021.7L490.0 2012.9L491.5 2004.6L493.0 1996.9L494.5 1989.6L496.0 1982.3L497.5 1974.6L499.0 1965.9L500.5 1956.8L502.0 1948.2L503.5 1940.9L505.0 1934.4L506.5 1928.3L508.0 1922.6L509.5 1917.1L511.0 1911.7L512.5 1906.6L514.0 1901.6L515.5 1896.8L517.0 1892.3L518.5 1888.1L520.0 1884.1L521.5 1880.3L523.0 1876.7L524.5 1873.2L526.0 1869.9L527.5 1866.6L529.0 1863.4L530.5 1860.5L532.0 1858.0L533.5 1855.7L535.0 1853.5L536.5 1851.4L538.0 1849.6L539.5 1848.0L541.0 1846.7L542.5 1845.8L544.1 1845.1L545.6 1844.4L547.1 1843.9L548.6 1843.4L550.1 1842.9L551.6 1842.3L553.1 1841.8L554.6 1841.3L556.1 1840.8L557.6 1840.3L559.1 1839.9L560.6 1839.4L562.1 1839.0L563.6 1838.5L565.1 1838.1L566.6 1837.6L568.1 1837.2L569.6 1836.7L571.1 1836.3L572.6 1835.8L574.1 1835.3L575.6 1834.8L577.1 1834.3L578.6 1833.8L580.1 1833.2L581.6 1832.7L583.1 1832.2L584.6 1831.7L586.1 1831.2L587.6 1830.8L589.1 1830.3L590.6 1829.9L592.1 1829.5L593.6 1829.2L595.1 1828.9L596.6 1828.7L598.1 1828.4L599.6 1828.2L601.1 1828.0L602.6 1827.8L604.1 1827.6L605.6 1827.4L607.1 1827.2L608.6 1827.0L610.1 1826.8L611.6 1826.7L613.1 1826.5L614.6 1826.4L616.1 1826.3L617.6 1826.2L619.1 1826.1L620.6 1826.1L622.1 1826.1L623.6 1826.1L625.1 1826.2L626.6 1826.3L628.1 1826.4L629.6 1826.6L631.1 1826.8L632.6 1827.1L634.1 1827.3L635.6 1827.6L637.1 1827.9L638.6 1828.2L640.1 1828.5L641.6 1828.8L643.1 1829.1L644.6 1829.4L646.1 1829.7L647.6 1830.0L649.1 1830.3L650.6 1830.7L652.1 1831.0L653.6 1831.5L655.1 1831.9L656.6 1832.3L658.1 1832.8L659.6 1833.3L661.1 1833.7L662.6 1834.2L664.1 1834.7L665.6 1835.1L667.1 1835.5L668.6 1835.9L670.1 1836.3L671.6 1836.6L673.1 1836.9L674.6 1837.1L676.1 1837.4L677.6 1837.7L679.1 1837.9L680.6 1838.1L682.1 1838.4L683.6 1838.6L685.1 1838.8L686.6 1839.0L688.1 1839.2L689.6 1839.4L691.1 1839.5L692.6 1839.7L694.1 1839.8L695.6 1840.0L697.1 1840.1L698.6 1840.2L700.1 1840.3L701.6 1840.3L703.1 1840.4L704.6 1840.5L706.1 1840.5L707.6 1840.6L709.1 1840.7L710.6 1840.7L712.1 1840.8L713.6 1840.8L715.1 1840.8L716.6 1840.9L718.1 1840.9L719.6 1841.0L721.1 1841.0L722.6 1841.0L724.1 1841.1L725.7 1841.1L727.2 1841.2L728.7 1841.2L730.2 1841.3L731.7 1841.4L733.2 1841.4L734.7 1841.5L736.2 1841.6L737.7 1841.7L739.2 1841.8L740.7 1841.9L742.2 1842.1L743.7 1842.2L745.2 1842.4L746.7 1842.6L748.2 1842.7L749.7 1842.9L751.2 1843.1L752.7 1843.3L754.2 1843.5L755.7 1843.6L757.2 1843.8L758.7 1843.9L760.2 1844.1L761.7 1844.2L763.2 1844.3L764.7 1844.4L766.2 1844.5L767.7 1844.6L769.2 1844.6L770.7 1844.6L772.2 1844.6L773.7 1844.6L775.2 1844.5L776.7 1844.5L778.2 1844.5L779.7 1844.4L781.2 1844.3L782.7 1844.3L784.2 1844.2L785.7 1844.1L787.2 1844.1L788.7 1844.0L790.2 1844.0L791.7 1843.9L793.2 1843.9L794.7 1843.8L796.2 1843.8L797.7 1843.8L799.2 1843.8L800.7 1843.7L802.2 1843.7L803.7 1843.7L805.2 1843.7L806.7 1843.7L808.2 1843.7L809.7 1843.6L811.2 1843.6L812.7 1843.6L814.2 1843.6L815.7 1843.6L817.2 1843.6L818.7 1843.6L820.2 1843.6L821.7 1843.5L823.2 1843.5L824.7 1843.5L826.2 1843.5L827.7 1843.5L829.2 1843.5L830.7 1843.5L832.2 1843.5L833.7 1843.5L835.2 1843.5L836.7 1843.5L838.2 1843.5L839.7 1843.6L841.2 1843.6L842.7 1843.6L844.2 1843.7L845.7 1843.7L847.2 1843.7L848.7 1843.8L850.2 1843.8L851.7 1843.9L853.2 1843.9L854.7 1843.9L856.2 1844.0L857.7 1844.0L859.2 1844.0L860.7 1844.0L862.2 1844.0L863.7 1843.9L865.2 1843.8L866.7 1843.6L868.2 1843.5L869.7 1843.3L871.2 1843.1L872.7 1842.9L874.2 1842.6L875.7 1842.4L877.2 1842.1L878.7 1841.9L880.2 1841.6L881.7 1841.3L883.2 1841.1L884.7 1840.8L886.2 1840.6L887.7 1840.3L889.2 1840.0L890.7 1839.7L892.2 1839.4L893.7 1839.0L895.2 1838.7L896.7 1838.3L898.2 1837.9L899.7 1837.6L901.2 1837.2L902.7 1836.9L904.2 1836.5L905.8 1836.2L907.3 1836.0L908.8 1835.7L910.3 1835.5L911.8 1835.3L913.3 1835.2L914.8 1835.0L916.3 1834.8L917.8 1834.7L919.3 1834.5L920.8 1834.4L922.3 1834.3L923.8 1834.2L925.3 1834.1L926.8 1834.0L928.3 1833.9L929.8 1833.9L931.3 1833.9L932.8 1833.9L934.3 1834.0L935.8 1834.1L937.3 1834.2L938.8 1834.3L940.3 1834.4L941.8 1834.5L943.3 1834.7L944.8 1834.8L946.3 1835.0L947.8 1835.2L949.3 1835.3L950.8 1835.5L952.3 1835.6L953.8 1835.8L955.3 1835.9L956.8 1836.1L958.3 1836.2L959.8 1836.3L961.3 1836.5L962.8 1836.6L964.3 1836.8L965.8 1837.0L967.3 1837.1L968.8 1837.3L970.3 1837.4L971.8 1837.6L973.3 1837.7L974.8 1837.9L976.3 1838.0L977.8 1838.1L979.3 1838.3L980.8 1838.4L982.3 1838.4L983.8 1838.5L985.3 1838.6L986.8 1838.6L988.3 1838.6L989.8 1838.6L991.3 1838.5L992.8 1838.4L994.3 1838.3L995.8 1838.2L997.3 1838.1L998.8 1837.9L1000.3 1837.7L1001.8 1837.5L1003.3 1837.3L1004.8 1837.0L1006.3 1836.8L1007.8 1836.5L1009.3 1836.2L1010.8 1836.0L1012.3 1835.7L1013.8 1835.4L1015.3 1835.1L1016.8 1834.7L1018.3 1834.4L1019.8 1833.9L1021.3 1833.5L1022.8 1832.9L1024.3 1832.4L1025.8 1831.9L1027.3 1831.3L1028.8 1830.7L1030.3 1830.0L1031.8 1829.4L1033.3 1828.7L1034.8 1828.0L1036.3 1827.3L1037.8 1826.6L1039.3 1825.8L1040.8 1824.9L1042.3 1824.0L1043.8 1823.1L1045.3 1822.1L1046.8 1821.1L1048.3 1820.1L1049.8 1819.0L1051.3 1817.9L1052.8 1816.7L1054.3 1815.5L1055.8 1814.2L1057.3 1812.9L1058.8 1811.5L1060.3 1810.1L1061.8 1808.5L1063.3 1807.0L1064.8 1805.4L1066.3 1803.7L1067.8 1801.9L1069.3 1800.2L1070.8 1798.3L1072.3 1796.3L1073.8 1794.1L1075.3 1791.9L1076.8 1789.6L1078.3 1787.2L1079.8 1784.7L1081.3 1782.2L1082.8 1779.6L1084.3 1777.0L1085.8 1774.2L1087.4 1771.4L1088.9 1768.4L1090.4 1765.2L1091.9 1761.8L1093.4 1758.2L1094.9 1754.2L1096.4 1749.9L1097.9 1745.3L1099.4 1740.4L1100.9 1735.5L1102.4 1730.4L1103.9 1725.1L1105.4 1719.5L1106.9 1713.7L1108.4 1707.8L1109.9 1701.8L1111.4 1695.5L1112.9 1689.0L1114.4 1682.4L1115.9 1675.8L1117.4 1669.2L1118.9 1662.7L1120.4 1656.0L1121.9 1649.5L1123.4 1642.9L1124.9 1636.5L1126.4 1630.2L1127.9 1624.0L1129.4 1618.0L1130.9 1612.0L1132.4 1606.1L1133.9 1600.2L1135.4 1594.2L1136.9 1588.2L1138.4 1582.1L1139.9 1576.0L1141.4 1570.0L1142.9 1564.1L1144.4 1558.2L1145.9 1552.3L1147.4 1546.5L1148.9 1540.7L1150.4 1535.0L1151.9 1529.5L1153.4 1524.3L1154.9 1519.3L1156.4 1514.3L1157.9 1509.5L1159.4 1505.0L1160.9 1500.8L1162.4 1497.1L1163.9 1493.8L1165.4 1490.7L1166.9 1487.7L1168.4 1485.1L1169.9 1482.9L1171.4 1481.2L1172.9 1479.9L1174.4 1478.7L1175.9 1477.7L1177.4 1477.1L1178.9 1476.9L1180.4 1477.3L1181.9 1478.2L1183.4 1479.3L1184.9 1480.6L1186.4 1482.2L1187.9 1484.4L1189.4 1487.2L1190.9 1490.4L1192.4 1494.0L1193.9 1497.9L1195.4 1502.1L1196.9 1507.3L1198.4 1513.2L1199.9 1519.6L1201.4 1526.3L1202.9 1533.1L1204.4 1539.9L1205.9 1547.1L1207.4 1554.6L1208.9 1562.3L1210.4 1570.1L1211.9 1577.8L1213.4 1585.3L1214.9 1592.9L1216.4 1600.5L1217.9 1608.1L1219.4 1615.6L1220.9 1623.0L1222.4 1630.3L1223.9 1637.5L1225.4 1644.6L1226.9 1651.7L1228.4 1658.7L1229.9 1665.6L1231.4 1672.5L1232.9 1679.5L1234.4 1686.5L1235.9 1693.4L1237.4 1700.1L1238.9 1706.7L1240.4 1712.9L1241.9 1718.9L1243.4 1724.8L1244.9 1730.5L1246.4 1736.0L1247.9 1741.3L1249.4 1746.3L1250.9 1751.3L1252.4 1756.1L1253.9 1760.8L1255.4 1765.2L1256.9 1769.4L1258.4 1773.2L1259.9 1776.9L1261.4 1780.5L1262.9 1783.8L1264.4 1787.0L1265.9 1789.7L1267.4 1792.1L1269.0 1794.3L1270.5 1796.3L1272.0 1798.1L1273.5 1799.9L1275.0 1801.4L1276.5 1802.8L1278.0 1803.9L1279.5 1804.9L1281.0 1805.7L1282.5 1806.5L1284.0 1807.3L1285.5 1807.9L1287.0 1808.5L1288.5 1809.1L1290.0 1809.5L1291.5 1809.9L1293.0 1810.2L1294.5 1810.5L1296.0 1810.8L1297.5 1811.1L1299.0 1811.3L1300.5 1811.5L1302.0 1811.7L1303.5 1811.9L1305.0 1812.1L1306.5 1812.2L1308.0 1812.3L1309.5 1812.4L1311.0 1812.4L1312.5 1812.4L1314.0 1812.5L1315.5 1812.5L1317.0 1812.5L1318.5 1812.6L1320.0 1812.6L1321.5 1812.6L1323.0 1812.6L1324.5 1812.7L1326.0 1812.7L1327.5 1812.7L1329.0 1812.7L1330.5 1812.7L1332.0 1812.8L1333.5 1812.8L1335.0 1812.8L1336.5 1812.8L1338.0 1812.8L1339.5 1812.8L1341.0 1812.8L1342.5 1812.8L1344.0 1812.9L1345.5 1812.9L1347.0 1812.9L1348.5 1812.9L1350.0 1812.9L1351.5 1812.9L1353.0 1812.9L1354.5 1812.9L1356.0 1812.9L1357.5 1812.9L1359.0 1812.9" fill="none" stroke="#4F4F4F" stroke-width="4.3" stroke-linejoin="round"/>
<path d="M138.8 1808.7L140.3 1808.7L141.8 1808.7L143.3 1808.7L144.8 1808.7L146.3 1808.7L147.8 1808.7L149.3 1808.7L150.8 1808.7L152.3 1808.7L153.8 1808.7L155.3 1808.7L156.8 1808.7L158.3 1808.7L159.8 1808.7L161.4 1808.7L162.9 1808.7L164.4 1808.7L165.9 1808.7L167.4 1808.7L168.9 1808.7L170.4 1808.7L171.9 1808.7L173.4 1808.7L174.9 1808.7L176.4 1808.7L177.9 1808.7L179.4 1808.7L180.9 1808.7L182.4 1808.7L183.9 1808.7L185.4 1808.7L186.9 1808.7L188.4 1808.7L189.9 1808.7L191.4 1808.7L192.9 1808.7L194.4 1808.7L195.9 1808.7L197.4 1808.7L198.9 1808.7L200.4 1808.7L201.9 1808.7L203.5 1808.7L205.0 1808.7L206.5 1808.7L208.0 1808.7L209.5 1808.7L211.0 1808.7L212.5 1808.7L214.0 1808.7L215.5 1808.7L217.0 1808.7L218.5 1808.7L220.0 1808.7L221.5 1808.7L223.0 1808.7L224.5 1808.7L226.0 1808.7L227.5 1808.7L229.0 1808.7L230.5 1808.7L232.0 1808.7L233.5 1808.7L235.0 1808.7L236.5 1808.7L238.0 1808.7L239.5 1808.7L241.0 1808.7L242.5 1808.7L244.0 1808.7L245.5 1808.7L247.1 1808.7L248.6 1808.7L250.1 1808.7L251.6 1808.7L253.1 1808.7L254.6 1808.7L256.1 1808.7L257.6 1808.7L259.1 1808.7L260.6 1808.7L262.1 1808.7L263.6 1808.7L265.1 1808.7L266.6 1808.7L268.1 1808.7L269.6 1808.7L271.1 1808.7L272.6 1808.7L274.1 1808.7L275.6 1808.7L277.1 1808.7L278.6 1808.7L280.1 1808.7L281.6 1808.7L283.1 1808.7L284.6 1808.7L286.1 1808.7L287.6 1808.7L289.1 1808.7L290.7 1808.7L292.2 1808.7L293.7 1808.7L295.2 1808.7L296.7 1808.7L298.2 1808.7L299.7 1808.7L301.2 1808.7L302.7 1808.7L304.2 1808.7L305.7 1808.7L307.2 1808.7L308.7 1808.7L310.2 1808.7L311.7 1808.8L313.2 1808.9L314.7 1809.0L316.2 1809.2L317.7 1809.4L319.2 1809.6L320.7 1809.8L322.2 1810.0L323.7 1810.2L325.2 1810.5L326.7 1810.7L328.2 1810.9L329.7 1811.2L331.2 1811.5L332.8 1811.9L334.3 1812.3L335.8 1812.7L337.3 1813.4L338.8 1814.1L340.3 1814.9L341.8 1815.8L343.3 1816.7L344.8 1817.6L346.3 1818.6L347.8 1819.7L349.3 1820.8L350.8 1822.0L352.3 1823.2L353.8 1824.5L355.3 1825.8L356.8 1827.3L358.3 1828.8L359.8 1830.5L361.3 1832.2L362.8 1834.1L364.3 1836.1L365.8 1838.2L367.3 1840.6L368.8 1843.1L370.3 1845.8L371.8 1848.7L373.3 1851.9L374.8 1855.5L376.4 1859.8L377.9 1864.5L379.4 1869.4L380.9 1874.6L382.4 1880.0L383.9 1885.9L385.4 1892.1L386.9 1898.4L388.4 1904.8L389.9 1911.2L391.4 1917.8L392.9 1924.6L394.4 1931.6L395.9 1938.8L397.4 1946.4L398.9 1954.2L400.4 1962.2L401.9 1970.4L403.4 1978.7L404.9 1987.2L406.4 1995.9L407.9 2004.8L409.4 2013.5L410.9 2022.0L412.4 2030.4L413.9 2038.7L415.4 2047.0L416.9 2055.0L418.5 2062.9L420.0 2070.5L421.5 2077.9L423.0 2085.2L424.5 2092.8L426.0 2100.6L427.5 2109.1L429.0 2117.4L430.5 2124.7L432.0 2131.1L433.5 2137.0L435.0 2142.2L436.5 2146.0L438.0 2148.7L439.5 2150.5L441.1 2151.5L442.6 2152.5L444.1 2153.5L445.7 2154.5L447.2 2155.5L448.8 2156.5L450.4 2157.5L451.9 2158.5L453.4 2159.5L455.0 2160.5L456.5 2157.3L458.0 2153.9L459.5 2150.5L461.0 2147.0L462.5 2143.0L464.0 2138.4L465.5 2133.4L467.0 2127.9L468.5 2122.2L470.0 2116.2L471.5 2109.8L473.0 2103.0L474.5 2095.8L476.0 2088.5L477.5 2080.9L479.0 2072.9L480.5 2064.9L482.0 2057.1L483.5 2049.2L485.0 2041.3L486.5 2033.1L488.1 2024.4L489.6 2015.7L491.1 2007.1L492.6 1999.2L494.1 1991.8L495.6 1984.6L497.1 1977.0L498.6 1968.6L500.1 1959.5L501.6 1950.7L503.1 1943.0L504.6 1936.3L506.1 1930.1L507.6 1924.3L509.1 1918.7L510.6 1913.3L512.1 1908.1L513.6 1903.0L515.1 1898.2L516.6 1893.6L518.1 1889.3L519.6 1885.2L521.1 1881.4L522.6 1877.7L524.1 1874.2L525.6 1870.8L527.1 1867.5L528.6 1864.3L530.1 1861.3L531.6 1858.6L533.1 1856.3L534.6 1853.9L536.1 1851.6L537.6 1849.5L539.1 1847.8L540.6 1846.7L542.1 1846.2L543.6 1846.0L545.1 1845.9L546.6 1845.8L548.1 1845.7L549.6 1845.6L551.1 1845.4L552.6 1845.1L554.2 1844.8L555.7 1844.4L557.2 1844.0L558.7 1843.6L560.2 1843.1L561.7 1842.7L563.2 1842.2L564.7 1841.7L566.2 1841.3L567.7 1840.8L569.2 1840.4L570.7 1840.0L572.2 1839.6L573.7 1839.2L575.2 1838.9L576.7 1838.5L578.2 1838.1L579.7 1837.7L581.2 1837.3L582.7 1836.9L584.2 1836.5L585.7 1836.2L587.2 1835.8L588.7 1835.5L590.2 1835.2L591.7 1834.8L593.2 1834.5L594.7 1834.3L596.2 1834.0L597.7 1833.8L599.2 1833.6L600.7 1833.3L602.2 1833.1L603.7 1832.8L605.2 1832.6L606.7 1832.4L608.2 1832.1L609.7 1831.9L611.2 1831.7L612.7 1831.6L614.2 1831.4L615.7 1831.3L617.2 1831.2L618.8 1831.1L620.3 1831.0L621.8 1831.0L623.3 1831.0L624.8 1831.0L626.3 1831.1L627.8 1831.2L629.3 1831.3L630.8 1831.4L632.3 1831.6L633.8 1831.7L635.3 1831.9L636.8 1832.1L638.3 1832.3L639.8 1832.5L641.3 1832.7L642.8 1832.9L644.3 1833.1L645.8 1833.3L647.3 1833.5L648.8 1833.7L650.3 1833.9L651.8 1834.2L653.3 1834.4L654.8 1834.7L656.3 1835.1L657.8 1835.4L659.3 1835.7L660.8 1836.0L662.3 1836.4L663.8 1836.7L665.3 1837.0L666.8 1837.4L668.3 1837.7L669.8 1837.9L671.3 1838.2L672.8 1838.4L674.3 1838.7L675.8 1838.9L677.3 1839.1L678.8 1839.3L680.3 1839.6L681.8 1839.8L683.4 1840.0L684.9 1840.2L686.4 1840.4L687.9 1840.6L689.4 1840.8L690.9 1841.0L692.4 1841.1L693.9 1841.2L695.4 1841.3L696.9 1841.4L698.4 1841.5L699.9 1841.5L701.4 1841.6L702.9 1841.6L704.4 1841.6L705.9 1841.6L707.4 1841.7L708.9 1841.7L710.4 1841.7L711.9 1841.7L713.4 1841.7L714.9 1841.7L716.4 1841.8L717.9 1841.8L719.4 1841.8L720.9 1841.8L722.4 1841.8L723.9 1841.8L725.4 1841.8L726.9 1841.9L728.4 1841.9L729.9 1841.9L731.4 1841.9L732.9 1842.0L734.4 1842.0L735.9 1842.0L737.4 1842.1L738.9 1842.2L740.4 1842.3L741.9 1842.4L743.4 1842.5L744.9 1842.6L746.4 1842.8L747.9 1842.9L749.5 1843.1L751.0 1843.2L752.5 1843.4L754.0 1843.5L755.5 1843.7L757.0 1843.8L758.5 1844.0L760.0 1844.1L761.5 1844.2L763.0 1844.3L764.5 1844.4L766.0 1844.5L767.5 1844.6L769.0 1844.6L770.5 1844.6L772.0 1844.6L773.5 1844.6L775.0 1844.5L776.5 1844.5L778.0 1844.5L779.5 1844.4L781.0 1844.3L782.5 1844.3L784.0 1844.2L785.5 1844.1L787.0 1844.1L788.5 1844.0L790.0 1844.0L791.5 1843.9L793.0 1843.9L794.5 1843.8L796.0 1843.8L797.5 1843.8L799.0 1843.8L800.5 1843.7L802.0 1843.7L803.5 1843.7L805.0 1843.7L806.5 1843.7L808.0 1843.7L809.5 1843.6L811.0 1843.6L812.5 1843.6L814.1 1843.6L815.6 1843.6L817.1 1843.6L818.6 1843.6L820.1 1843.6L821.6 1843.5L823.1 1843.5L824.6 1843.5L826.1 1843.5L827.6 1843.5L829.1 1843.5L830.6 1843.5L832.1 1843.5L833.6 1843.5L835.1 1843.5L836.6 1843.5L838.1 1843.5L839.6 1843.6L841.1 1843.6L842.6 1843.6L844.1 1843.7L845.6 1843.7L847.1 1843.7L848.6 1843.8L850.1 1843.8L851.6 1843.9L853.1 1843.9L854.6 1843.9L856.1 1844.0L857.6 1844.0L859.1 1844.0L860.6 1844.0L862.1 1844.0L863.6 1843.9L865.1 1843.8L866.6 1843.7L868.1 1843.5L869.6 1843.3L871.1 1843.1L872.6 1842.9L874.1 1842.6L875.6 1842.4L877.1 1842.1L878.7 1841.9L880.2 1841.6L881.7 1841.4L883.2 1841.1L884.7 1840.9L886.2 1840.6L887.7 1840.3L889.2 1840.0L890.7 1839.7L892.2 1839.4L893.7 1839.0L895.2 1838.7L896.7 1838.3L898.2 1837.9L899.7 1837.6L901.2 1837.2L902.7 1836.9L904.2 1836.6L905.7 1836.3L907.2 1836.0L908.7 1835.7L910.2 1835.5L911.7 1835.3L913.2 1835.2L914.7 1835.0L916.2 1834.8L917.7 1834.7L919.2 1834.5L920.7 1834.4L922.2 1834.3L923.7 1834.2L925.2 1834.1L926.7 1834.0L928.2 1833.9L929.7 1833.9L931.2 1833.9L932.7 1833.9L934.2 1834.0L935.7 1834.1L937.2 1834.2L938.7 1834.3L940.2 1834.4L941.7 1834.6L943.2 1834.8L944.8 1834.9L946.3 1835.1L947.8 1835.2L949.3 1835.4L950.8 1835.6L952.3 1835.7L953.8 1835.8L955.3 1835.9L956.8 1836.0L958.3 1836.1L959.8 1836.2L961.3 1836.3L962.8 1836.4L964.3 1836.5L965.8 1836.6L967.3 1836.7L968.8 1836.8L970.3 1836.9L971.8 1837.0L973.3 1837.1L974.8 1837.1L976.3 1837.2L977.8 1837.3L979.3 1837.3L980.8 1837.4L982.3 1837.4L983.8 1837.5L985.3 1837.5L986.8 1837.5L988.3 1837.5L989.8 1837.5L991.3 1837.4L992.8 1837.3L994.3 1837.1L995.8 1836.9L997.3 1836.7L998.8 1836.4L1000.3 1836.1L1001.8 1835.8L1003.3 1835.4L1004.8 1835.0L1006.3 1834.6L1007.8 1834.2L1009.4 1833.8L1010.9 1833.3L1012.4 1832.9L1013.9 1832.4L1015.4 1831.9L1016.9 1831.5L1018.4 1831.0L1019.9 1830.5L1021.4 1829.9L1022.9 1829.3L1024.4 1828.6L1025.9 1827.9L1027.4 1827.2L1028.9 1826.4L1030.4 1825.6L1031.9 1824.7L1033.4 1823.8L1034.9 1822.8L1036.4 1821.9L1037.9 1820.8L1039.4 1819.8L1040.9 1818.7L1042.4 1817.6L1043.9 1816.5L1045.4 1815.3L1046.9 1814.2L1048.4 1813.0L1049.9 1811.7L1051.4 1810.5L1052.9 1809.1L1054.4 1807.7L1055.9 1806.2L1057.4 1804.7L1058.9 1803.1L1060.4 1801.4L1061.9 1799.6L1063.4 1797.8L1064.9 1796.0L1066.4 1794.0L1067.9 1792.1L1069.4 1790.0L1070.9 1787.9L1072.4 1785.7L1074.0 1783.4L1075.5 1781.1L1077.0 1778.8L1078.5 1776.3L1080.0 1773.8L1081.5 1770.9L1083.0 1767.8L1084.5 1764.4L1086.0 1760.9L1087.5 1757.3L1089.0 1753.6L1090.5 1749.8L1092.0 1746.1L1093.5 1742.4L1095.0 1738.9L1096.5 1735.4L1098.0 1732.0L1099.5 1728.4L1101.0 1724.5L1102.5 1720.1L1104.0 1714.6L1105.5 1708.5L1107.0 1702.4L1108.5 1696.7L1110.0 1692.1L1111.5 1688.3L1113.0 1684.6L1114.5 1680.8L1116.0 1676.2L1117.5 1670.6L1119.0 1664.2L1120.5 1657.3L1122.0 1650.1L1123.5 1642.9L1125.0 1636.0L1126.5 1629.5L1128.0 1623.3L1129.5 1617.3L1131.0 1611.3L1132.5 1605.4L1134.0 1599.5L1135.5 1593.5L1137.0 1587.5L1138.5 1581.4L1140.1 1575.3L1141.6 1569.3L1143.1 1563.4L1144.6 1557.5L1146.1 1551.6L1147.6 1545.7L1149.1 1539.8L1150.6 1534.2L1152.1 1528.8L1153.6 1523.7L1155.1 1518.9L1156.6 1514.2L1158.1 1509.6L1159.6 1505.4L1161.1 1501.6L1162.6 1498.3L1164.1 1495.4L1165.6 1492.7L1167.1 1490.2L1168.6 1487.9L1170.1 1486.0L1171.6 1484.5L1173.3 1483.5L1174.9 1482.5L1176.6 1481.5L1178.3 1480.5L1179.8 1482.4L1181.3 1484.4L1182.8 1486.4L1184.3 1488.5L1185.8 1490.4L1187.3 1492.4L1188.8 1494.4L1190.3 1496.6L1191.9 1499.0L1193.4 1501.8L1194.9 1505.1L1196.4 1509.3L1197.9 1514.6L1199.4 1520.5L1200.9 1526.8L1202.4 1533.3L1203.9 1539.7L1205.4 1546.3L1206.9 1553.3L1208.4 1560.6L1209.9 1568.0L1211.4 1575.4L1212.9 1582.8L1214.4 1590.3L1215.9 1597.9L1217.5 1605.6L1219.0 1613.2L1220.5 1620.7L1222.0 1628.1L1223.5 1635.4L1225.0 1642.5L1226.5 1649.6L1228.0 1656.6L1229.5 1663.6L1231.0 1670.6L1232.5 1677.6L1234.0 1684.6L1235.5 1691.5L1237.0 1698.3L1238.5 1704.9L1240.0 1711.3L1241.5 1717.3L1243.1 1723.3L1244.6 1729.0L1246.1 1734.6L1247.6 1740.0L1249.1 1745.1L1250.6 1750.1L1252.1 1755.0L1253.6 1759.7L1255.1 1764.2L1256.6 1768.4L1258.1 1772.4L1259.6 1776.1L1261.1 1779.7L1262.6 1783.1L1264.1 1786.3L1265.6 1789.2L1267.1 1791.7L1268.7 1793.8L1270.2 1795.9L1271.7 1797.8L1273.2 1799.5L1274.7 1801.1L1276.2 1802.5L1277.7 1803.7L1279.2 1804.7L1280.7 1805.6L1282.2 1806.4L1283.7 1807.1L1285.2 1807.8L1286.7 1808.5L1288.2 1809.0L1289.7 1809.5L1291.2 1809.9L1292.7 1810.2L1294.2 1810.5L1295.8 1810.8L1297.3 1811.0L1298.8 1811.3L1300.3 1811.5L1301.8 1811.7L1303.3 1811.9L1304.8 1812.0L1306.3 1812.2L1307.8 1812.3L1309.3 1812.4L1310.8 1812.4L1312.3 1812.4L1313.8 1812.5L1315.3 1812.5L1316.8 1812.5L1318.3 1812.6L1319.8 1812.6L1321.4 1812.6L1322.9 1812.6L1324.4 1812.7L1325.9 1812.7L1327.4 1812.7L1328.9 1812.7L1330.4 1812.7L1331.9 1812.8L1333.4 1812.8L1334.9 1812.8L1336.4 1812.8L1337.9 1812.8L1339.4 1812.8L1340.9 1812.8L1342.4 1812.8L1343.9 1812.9L1345.4 1812.9L1347.0 1812.9L1348.5 1812.9L1350.0 1812.9L1351.5 1812.9L1353.0 1812.9L1354.5 1812.9L1356.0 1812.9L1357.5 1812.9L1359.0 1812.9" fill="none" stroke="#F53A3A" stroke-width="4.3" stroke-dasharray="24.3 22.4" stroke-dashoffset="-13" stroke-linejoin="round"/>
<path d="M138.8 1808.7L140.3 1808.7L141.8 1808.7L143.3 1808.7L144.8 1808.7L146.3 1808.7L147.8 1808.7L149.3 1808.7L150.8 1808.7L152.3 1808.7L153.8 1808.7L155.3 1808.7L156.8 1808.7L158.3 1808.7L159.8 1808.7L161.3 1808.7L162.8 1808.7L164.3 1808.7L165.8 1808.7L167.3 1808.7L168.8 1808.7L170.3 1808.7L171.8 1808.7L173.3 1808.7L174.8 1808.7L176.3 1808.7L177.8 1808.7L179.3 1808.7L180.8 1808.7L182.3 1808.7L183.8 1808.7L185.3 1808.7L186.8 1808.7L188.3 1808.7L189.8 1808.7L191.3 1808.7L192.8 1808.7L194.3 1808.7L195.8 1808.7L197.3 1808.7L198.8 1808.7L200.3 1808.7L201.8 1808.7L203.3 1808.7L204.8 1808.7L206.3 1808.7L207.8 1808.7L209.3 1808.7L210.8 1808.7L212.3 1808.7L213.8 1808.7L215.3 1808.7L216.9 1808.7L218.4 1808.7L219.9 1808.7L221.4 1808.7L222.9 1808.7L224.4 1808.7L225.9 1808.7L227.4 1808.7L228.9 1808.7L230.4 1808.7L231.9 1808.7L233.4 1808.7L234.9 1808.7L236.4 1808.7L237.9 1808.7L239.4 1808.7L240.9 1808.7L242.4 1808.7L243.9 1808.7L245.4 1808.7L246.9 1808.7L248.4 1808.7L249.9 1808.7L251.4 1808.7L252.9 1808.7L254.4 1808.7L255.9 1808.7L257.4 1808.7L258.9 1808.7L260.4 1808.7L261.9 1808.7L263.4 1808.7L264.9 1808.7L266.4 1808.7L267.9 1808.7L269.4 1808.7L270.9 1808.7L272.4 1808.7L273.9 1808.7L275.4 1808.7L276.9 1808.7L278.4 1808.7L279.9 1808.7L281.4 1808.7L282.9 1808.7L284.4 1808.7L285.9 1808.7L287.4 1808.7L288.9 1808.7L290.4 1808.7L291.9 1808.7L293.4 1808.7L294.9 1808.7L296.4 1808.7L297.9 1808.7L299.4 1808.7L300.9 1808.7L302.4 1808.7L303.9 1808.7L305.4 1808.7L306.9 1808.7L308.4 1808.7L309.9 1808.7L311.4 1808.8L312.9 1808.9L314.4 1809.0L315.9 1809.2L317.4 1809.4L318.9 1809.6L320.4 1809.8L321.9 1810.0L323.4 1810.2L324.9 1810.4L326.4 1810.6L327.9 1810.9L329.4 1811.1L330.9 1811.4L332.4 1811.8L333.9 1812.2L335.4 1812.6L336.9 1813.3L338.4 1814.2L339.9 1815.2L341.4 1816.1L342.9 1817.0L344.4 1818.0L345.9 1819.0L347.4 1820.0L348.9 1821.2L350.4 1822.4L351.9 1823.8L353.4 1825.3L354.9 1826.9L356.4 1828.6L357.9 1830.4L359.4 1832.3L360.9 1834.4L362.4 1836.6L363.9 1839.1L365.4 1841.7L366.9 1844.5L368.4 1847.5L369.9 1850.7L371.4 1854.2L373.0 1858.0L374.5 1862.5L376.0 1867.4L377.5 1872.4L379.0 1877.3L380.5 1882.0L382.0 1886.8L383.5 1892.3L385.0 1899.4L386.5 1907.8L388.0 1915.9L389.5 1922.4L391.0 1928.1L392.5 1933.8L394.0 1940.2L395.5 1947.2L397.0 1954.7L398.5 1962.8L400.0 1971.6L401.5 1980.9L403.0 1990.3L404.5 1999.8L406.0 2009.6L407.5 2019.0L409.0 2027.6L410.5 2035.6L412.0 2043.3L413.5 2051.0L415.0 2059.0L416.5 2066.9L418.0 2074.8L419.5 2082.8L421.0 2090.8L422.5 2098.8L424.0 2106.7L425.5 2114.4L427.0 2122.1L428.5 2129.4L430.0 2136.1L431.5 2142.4L433.0 2148.1L434.5 2153.4L436.0 2158.3L437.5 2162.0L439.0 2164.5L440.5 2166.7L442.0 2168.4L443.5 2169.7L445.0 2170.5L446.5 2171.3L448.0 2171.9L449.5 2172.3L451.0 2172.5L452.5 2169.8L454.0 2166.9L455.5 2163.6L457.0 2160.2L458.5 2156.4L460.0 2152.0L461.5 2146.0L463.0 2139.2L464.5 2133.3L466.0 2127.8L467.5 2122.2L469.0 2116.2L470.5 2109.7L472.0 2102.9L473.5 2095.9L475.0 2088.6L476.5 2081.0L478.0 2073.0L479.5 2065.0L481.0 2057.2L482.5 2049.3L484.0 2041.4L485.5 2033.2L487.0 2024.6L488.5 2015.8L490.0 2007.3L491.5 1999.3L493.0 1992.0L494.5 1984.8L496.0 1977.3L497.5 1968.9L499.0 1959.8L500.5 1950.9L502.0 1943.2L503.5 1936.5L505.0 1930.3L506.5 1924.5L508.0 1918.9L509.5 1913.5L511.0 1908.3L512.5 1903.2L514.0 1898.4L515.5 1893.8L517.0 1889.5L518.5 1885.4L520.0 1881.5L521.5 1877.9L523.0 1874.4L524.5 1871.0L526.0 1867.6L527.5 1864.4L529.0 1861.4L530.5 1858.7L532.0 1856.5L533.5 1854.4L535.0 1852.5L536.5 1850.7L538.0 1849.2L539.5 1847.9L541.0 1847.0L542.6 1846.3L544.1 1845.7L545.6 1845.3L547.1 1844.8L548.6 1844.4L550.1 1844.0L551.6 1843.6L553.1 1843.2L554.6 1842.8L556.1 1842.4L557.6 1842.0L559.1 1841.6L560.6 1841.3L562.1 1840.9L563.6 1840.6L565.1 1840.2L566.6 1839.9L568.1 1839.6L569.6 1839.2L571.1 1838.9L572.6 1838.6L574.1 1838.3L575.6 1838.0L577.1 1837.7L578.6 1837.4L580.1 1837.1L581.6 1836.8L583.1 1836.5L584.6 1836.2L586.1 1835.9L587.6 1835.7L589.1 1835.4L590.6 1835.2L592.1 1835.0L593.6 1834.8L595.1 1834.6L596.6 1834.5L598.1 1834.4L599.6 1834.2L601.1 1834.1L602.6 1834.0L604.1 1833.8L605.6 1833.7L607.1 1833.6L608.6 1833.5L610.1 1833.4L611.6 1833.3L613.1 1833.2L614.6 1833.2L616.1 1833.1L617.6 1833.1L619.1 1833.0L620.6 1833.0L622.1 1833.0L623.6 1833.0L625.1 1833.1L626.6 1833.1L628.1 1833.2L629.6 1833.3L631.1 1833.5L632.6 1833.6L634.1 1833.8L635.6 1833.9L637.1 1834.1L638.6 1834.3L640.1 1834.5L641.6 1834.7L643.1 1834.9L644.6 1835.1L646.1 1835.3L647.6 1835.5L649.1 1835.7L650.6 1835.9L652.1 1836.2L653.6 1836.5L655.1 1836.7L656.6 1837.0L658.1 1837.3L659.6 1837.6L661.1 1838.0L662.6 1838.3L664.1 1838.6L665.6 1838.8L667.1 1839.1L668.6 1839.4L670.1 1839.6L671.6 1839.8L673.1 1840.0L674.6 1840.2L676.1 1840.3L677.6 1840.5L679.1 1840.6L680.6 1840.8L682.1 1841.0L683.6 1841.1L685.1 1841.3L686.6 1841.4L688.1 1841.5L689.6 1841.6L691.1 1841.7L692.6 1841.8L694.1 1841.9L695.6 1842.0L697.1 1842.0L698.6 1842.0L700.1 1842.0L701.6 1842.0L703.1 1842.0L704.6 1842.0L706.1 1842.0L707.6 1842.0L709.1 1842.0L710.6 1842.0L712.1 1842.0L713.6 1842.0L715.1 1842.0L716.6 1842.0L718.1 1842.0L719.6 1842.0L721.1 1842.0L722.6 1842.0L724.2 1842.0L725.7 1842.0L727.2 1842.0L728.7 1842.0L730.2 1842.0L731.7 1842.0L733.2 1842.0L734.7 1842.0L736.2 1842.0L737.7 1842.1L739.2 1842.1L740.7 1842.2L742.2 1842.3L743.7 1842.4L745.2 1842.5L746.7 1842.7L748.2 1842.8L749.7 1843.0L751.2 1843.1L752.7 1843.3L754.2 1843.5L755.7 1843.6L757.2 1843.8L758.7 1843.9L760.2 1844.1L761.7 1844.2L763.2 1844.3L764.7 1844.4L766.2 1844.5L767.7 1844.6L769.2 1844.6L770.7 1844.6L772.2 1844.6L773.7 1844.6L775.2 1844.5L776.7 1844.5L778.2 1844.5L779.7 1844.4L781.2 1844.3L782.7 1844.3L784.2 1844.2L785.7 1844.1L787.2 1844.1L788.7 1844.0L790.2 1844.0L791.7 1843.9L793.2 1843.9L794.7 1843.8L796.2 1843.8L797.7 1843.8L799.2 1843.8L800.7 1843.7L802.2 1843.7L803.7 1843.7L805.2 1843.7L806.7 1843.7L808.2 1843.7L809.7 1843.7L811.2 1843.7L812.7 1843.7L814.2 1843.7L815.7 1843.7L817.2 1843.6L818.7 1843.6L820.2 1843.6L821.7 1843.6L823.2 1843.6L824.7 1843.6L826.2 1843.6L827.7 1843.6L829.2 1843.6L830.7 1843.5L832.2 1843.5L833.7 1843.5L835.2 1843.5L836.7 1843.5L838.2 1843.4L839.7 1843.4L841.2 1843.4L842.7 1843.3L844.2 1843.3L845.7 1843.2L847.2 1843.2L848.7 1843.1L850.2 1843.0L851.7 1843.0L853.2 1842.9L854.7 1842.8L856.2 1842.7L857.7 1842.6L859.2 1842.6L860.7 1842.4L862.2 1842.3L863.7 1842.1L865.2 1841.9L866.7 1841.7L868.2 1841.4L869.7 1841.1L871.2 1840.8L872.7 1840.5L874.2 1840.1L875.7 1839.8L877.2 1839.5L878.7 1839.1L880.2 1838.8L881.7 1838.5L883.2 1838.2L884.7 1837.9L886.2 1837.6L887.7 1837.3L889.2 1837.0L890.7 1836.6L892.2 1836.3L893.7 1835.9L895.2 1835.6L896.7 1835.3L898.2 1834.9L899.7 1834.6L901.2 1834.3L902.7 1833.9L904.2 1833.6L905.8 1833.3L907.3 1833.0L908.8 1832.7L910.3 1832.4L911.8 1832.1L913.3 1831.8L914.8 1831.5L916.3 1831.2L917.8 1830.9L919.3 1830.6L920.8 1830.4L922.3 1830.1L923.8 1829.8L925.3 1829.5L926.8 1829.3L928.3 1829.0L929.8 1828.7L931.3 1828.5L932.8 1828.3L934.3 1828.1L935.8 1827.9L937.3 1827.7L938.8 1827.5L940.3 1827.4L941.8 1827.2L943.3 1827.1L944.8 1827.0L946.3 1826.9L947.8 1826.8L949.3 1826.7L950.8 1826.6L952.3 1826.5L953.8 1826.5L955.3 1826.4L956.8 1826.3L958.3 1826.2L959.8 1826.1L961.3 1826.0L962.8 1825.9L964.3 1825.7L965.8 1825.6L967.3 1825.5L968.8 1825.3L970.3 1825.1L971.8 1824.9L973.3 1824.6L974.8 1824.4L976.3 1824.1L977.8 1823.8L979.3 1823.5L980.8 1823.1L982.3 1822.8L983.8 1822.4L985.3 1822.0L986.8 1821.6L988.3 1821.2L989.8 1820.7L991.3 1820.3L992.8 1819.8L994.3 1819.3L995.8 1818.7L997.3 1818.0L998.8 1817.3L1000.3 1816.6L1001.8 1815.8L1003.3 1814.9L1004.8 1814.0L1006.3 1813.1L1007.8 1812.2L1009.3 1811.2L1010.8 1810.2L1012.3 1809.2L1013.8 1808.2L1015.3 1807.2L1016.8 1806.2L1018.3 1805.2L1019.8 1804.2L1021.3 1803.1L1022.8 1802.0L1024.3 1800.9L1025.8 1799.7L1027.3 1798.6L1028.8 1797.4L1030.3 1796.1L1031.8 1794.9L1033.3 1793.6L1034.8 1792.4L1036.3 1791.1L1037.8 1789.8L1039.3 1788.5L1040.8 1787.1L1042.3 1785.8L1043.8 1784.4L1045.3 1783.0L1046.8 1781.6L1048.3 1780.1L1049.8 1778.7L1051.3 1777.2L1052.8 1775.6L1054.3 1774.1L1055.8 1772.5L1057.3 1770.9L1058.8 1769.2L1060.3 1767.6L1061.8 1765.9L1063.3 1764.2L1064.8 1762.5L1066.3 1760.7L1067.8 1758.9L1069.3 1757.1L1070.8 1755.1L1072.3 1753.1L1073.8 1751.1L1075.3 1748.9L1076.8 1746.7L1078.3 1744.3L1079.8 1741.8L1081.3 1739.1L1082.8 1736.4L1084.3 1733.6L1085.8 1730.7L1087.4 1727.7L1088.9 1724.7L1090.4 1721.6L1091.9 1718.5L1093.4 1715.2L1094.9 1711.8L1096.4 1708.3L1097.9 1704.7L1099.4 1701.2L1100.9 1697.6L1102.4 1694.2L1103.9 1690.8L1105.4 1687.5L1106.9 1684.1L1108.4 1680.7L1109.9 1677.1L1111.4 1673.3L1112.9 1669.2L1114.4 1664.5L1115.9 1659.3L1117.4 1653.7L1118.9 1648.1L1120.4 1642.9L1121.9 1638.2L1123.4 1633.7L1124.9 1629.3L1126.4 1624.9L1127.9 1620.5L1129.4 1615.8L1130.9 1610.9L1132.4 1605.8L1133.9 1600.6L1135.4 1595.3L1136.9 1589.9L1138.4 1584.6L1139.9 1579.1L1141.4 1573.6L1142.9 1568.2L1144.4 1563.0L1145.9 1557.9L1147.4 1552.9L1148.9 1548.0L1150.4 1543.3L1151.9 1538.8L1153.4 1534.5L1154.9 1530.4L1156.4 1526.2L1157.9 1522.1L1159.4 1518.2L1160.9 1514.9L1162.4 1512.2L1163.9 1510.3L1165.4 1508.8L1166.9 1507.3L1168.4 1506.0L1169.9 1504.9L1171.4 1504.0L1172.9 1503.3L1174.4 1503.0L1175.9 1503.1L1177.4 1503.4L1178.9 1503.9L1180.4 1504.7L1181.9 1505.7L1183.4 1506.8L1184.9 1508.0L1186.4 1509.5L1187.9 1511.9L1189.4 1515.0L1190.9 1518.6L1192.4 1522.8L1193.9 1527.2L1195.4 1531.8L1196.9 1536.3L1198.4 1541.5L1199.9 1547.3L1201.4 1553.4L1202.9 1559.7L1204.4 1565.7L1205.9 1571.6L1207.4 1577.5L1208.9 1583.4L1210.4 1589.3L1211.9 1595.3L1213.4 1601.5L1214.9 1607.7L1216.4 1614.2L1217.9 1621.0L1219.4 1628.2L1220.9 1635.7L1222.4 1643.5L1223.9 1651.3L1225.4 1659.0L1226.9 1666.6L1228.4 1673.8L1229.9 1680.6L1231.4 1687.3L1232.9 1693.8L1234.4 1700.3L1235.9 1707.0L1237.4 1713.8L1238.9 1720.4L1240.4 1726.7L1241.9 1732.5L1243.4 1738.1L1244.9 1743.5L1246.4 1748.6L1247.9 1753.3L1249.4 1757.5L1250.9 1761.2L1252.4 1764.7L1253.9 1767.9L1255.4 1771.0L1256.9 1773.9L1258.4 1776.9L1259.9 1779.8L1261.4 1782.7L1262.9 1785.5L1264.4 1788.2L1265.9 1790.6L1267.4 1792.7L1269.0 1794.7L1270.5 1796.5L1272.0 1798.3L1273.5 1800.0L1275.0 1801.5L1276.5 1802.8L1278.0 1803.9L1279.5 1804.9L1281.0 1805.7L1282.5 1806.5L1284.0 1807.2L1285.5 1807.9L1287.0 1808.5L1288.5 1809.1L1290.0 1809.5L1291.5 1809.9L1293.0 1810.2L1294.5 1810.5L1296.0 1810.8L1297.5 1811.1L1299.0 1811.3L1300.5 1811.5L1302.0 1811.7L1303.5 1811.9L1305.0 1812.1L1306.5 1812.2L1308.0 1812.3L1309.5 1812.4L1311.0 1812.4L1312.5 1812.4L1314.0 1812.5L1315.5 1812.5L1317.0 1812.5L1318.5 1812.6L1320.0 1812.6L1321.5 1812.6L1323.0 1812.6L1324.5 1812.7L1326.0 1812.7L1327.5 1812.7L1329.0 1812.7L1330.5 1812.7L1332.0 1812.8L1333.5 1812.8L1335.0 1812.8L1336.5 1812.8L1338.0 1812.8L1339.5 1812.8L1341.0 1812.8L1342.5 1812.8L1344.0 1812.9L1345.5 1812.9L1347.0 1812.9L1348.5 1812.9L1350.0 1812.9L1351.5 1812.9L1353.0 1812.9L1354.5 1812.9L1356.0 1812.9L1357.5 1812.9L1359.0 1812.9" fill="none" stroke="#1262E8" stroke-width="4.3" stroke-dasharray="7.4 20.2" stroke-linejoin="round"/>
<path d="M138.8 1808.7L140.3 1808.7L141.8 1808.7L143.3 1808.7L144.8 1808.7L146.3 1808.7L147.8 1808.7L149.3 1808.7L150.8 1808.7L152.3 1808.7L153.8 1808.7L155.3 1808.7L156.8 1808.7L158.4 1808.7L159.9 1808.7L161.4 1808.7L162.9 1808.7L164.4 1808.7L165.9 1808.7L167.4 1808.7L168.9 1808.7L170.4 1808.7L171.9 1808.7L173.4 1808.7L174.9 1808.7L176.4 1808.7L177.9 1808.7L179.4 1808.7L180.9 1808.7L182.4 1808.7L183.9 1808.7L185.4 1808.7L186.9 1808.7L188.4 1808.7L189.9 1808.7L191.4 1808.7L192.9 1808.7L194.4 1808.7L195.9 1808.7L197.5 1808.7L199.0 1808.7L200.5 1808.7L202.0 1808.7L203.5 1808.7L205.0 1808.7L206.5 1808.7L208.0 1808.7L209.5 1808.7L211.0 1808.7L212.5 1808.7L214.0 1808.7L215.5 1808.7L217.0 1808.7L218.5 1808.7L220.0 1808.7L221.5 1808.7L223.0 1808.7L224.5 1808.7L226.0 1808.7L227.5 1808.7L229.0 1808.7L230.5 1808.7L232.0 1808.7L233.5 1808.7L235.0 1808.7L236.6 1808.7L238.1 1808.7L239.6 1808.7L241.1 1808.7L242.6 1808.7L244.1 1808.7L245.6 1808.7L247.1 1808.7L248.6 1808.7L250.1 1808.7L251.6 1808.7L253.1 1808.7L254.6 1808.7L256.1 1808.7L257.6 1808.7L259.1 1808.7L260.6 1808.7L262.1 1808.7L263.6 1808.7L265.1 1808.7L266.6 1808.7L268.1 1808.7L269.6 1808.7L271.1 1808.7L272.6 1808.7L274.1 1808.7L275.7 1808.7L277.2 1808.7L278.7 1808.7L280.2 1808.7L281.7 1808.7L283.2 1808.7L284.7 1808.7L286.2 1808.7L287.7 1808.7L289.2 1808.7L290.7 1808.7L292.2 1808.7L293.7 1808.7L295.2 1808.7L296.7 1808.7L298.2 1808.7L299.7 1808.7L301.2 1808.7L302.7 1808.7L304.2 1808.7L305.7 1808.7L307.2 1808.7L308.7 1808.7L310.2 1808.7L311.7 1808.8L313.2 1808.9L314.8 1809.1L316.3 1809.2L317.8 1809.4L319.3 1809.6L320.8 1809.8L322.3 1810.0L323.8 1810.2L325.3 1810.4L326.8 1810.7L328.3 1810.9L329.8 1811.2L331.3 1811.5L332.8 1811.9L334.3 1812.3L335.8 1812.8L337.3 1813.7L338.8 1814.7L340.3 1815.7L341.8 1816.7L343.3 1817.7L344.8 1818.8L346.3 1819.9L347.8 1821.1L349.3 1822.4L350.8 1823.8L352.3 1825.3L353.9 1826.9L355.4 1828.6L356.9 1830.4L358.4 1832.3L359.9 1834.4L361.4 1836.7L362.9 1839.1L364.4 1841.8L365.9 1844.6L367.4 1847.7L368.9 1851.0L370.4 1854.6L371.9 1858.5L373.4 1863.1L374.9 1868.4L376.4 1873.8L377.9 1879.1L379.4 1884.3L380.9 1889.8L382.4 1896.0L383.9 1903.1L385.4 1910.4L386.9 1917.3L388.4 1923.3L389.9 1928.7L391.4 1934.5L393.0 1941.3L394.5 1948.8L396.0 1956.7L397.5 1965.0L399.0 1973.8L400.5 1983.0L402.0 1992.3L403.5 2002.0L405.0 2012.0L406.5 2021.4L408.0 2029.9L409.5 2037.7L411.0 2045.4L412.5 2053.3L414.0 2061.4L415.5 2069.5L417.0 2077.6L418.5 2085.7L420.0 2093.8L421.5 2101.7L423.0 2109.5L424.5 2117.1L426.0 2124.5L427.5 2131.5L429.0 2138.0L430.5 2144.1L432.1 2149.9L433.6 2155.8L435.1 2161.7L436.6 2165.8L438.1 2168.7L439.6 2171.1L441.1 2173.1L442.6 2174.7L444.1 2176.0L445.6 2177.1L447.1 2178.1L448.6 2178.9L450.1 2179.3L451.6 2176.5L453.1 2173.3L454.6 2169.9L456.1 2166.3L457.6 2162.7L459.1 2158.2L460.6 2150.3L462.1 2140.1L463.6 2133.0L465.1 2127.3L466.6 2121.8L468.1 2115.6L469.6 2109.1L471.1 2102.3L472.6 2095.3L474.1 2088.0L475.6 2080.4L477.1 2072.4L478.6 2064.4L480.1 2056.5L481.6 2048.7L483.2 2040.7L484.7 2032.5L486.2 2023.8L487.7 2015.0L489.2 2006.5L490.7 1998.6L492.2 1991.3L493.7 1984.1L495.2 1976.5L496.7 1968.0L498.2 1958.9L499.7 1950.1L501.2 1942.5L502.7 1935.8L504.2 1929.7L505.7 1923.9L507.2 1918.3L508.7 1913.0L510.2 1907.7L511.7 1902.7L513.2 1897.9L514.7 1893.3L516.2 1889.0L517.7 1885.0L519.2 1881.1L520.7 1877.5L522.2 1874.0L523.7 1870.6L525.2 1867.3L526.7 1864.0L528.2 1861.0L529.7 1858.4L531.2 1856.2L532.7 1854.2L534.2 1852.3L535.7 1850.5L537.2 1849.0L538.7 1847.8L540.2 1846.9L541.7 1846.2L543.2 1845.6L544.7 1845.1L546.2 1844.6L547.8 1844.2L549.3 1843.8L550.8 1843.3L552.3 1842.9L553.8 1842.5L555.3 1842.1L556.8 1841.7L558.3 1841.3L559.8 1840.9L561.3 1840.5L562.8 1840.2L564.3 1839.8L565.8 1839.5L567.3 1839.2L568.8 1838.9L570.3 1838.6L571.8 1838.3L573.3 1838.0L574.8 1837.7L576.3 1837.4L577.8 1837.1L579.3 1836.8L580.8 1836.5L582.3 1836.3L583.8 1836.0L585.3 1835.7L586.8 1835.5L588.3 1835.3L589.8 1835.1L591.3 1834.9L592.8 1834.8L594.3 1834.6L595.8 1834.5L597.3 1834.5L598.8 1834.4L600.3 1834.3L601.8 1834.3L603.3 1834.2L604.8 1834.1L606.3 1834.1L607.8 1834.0L609.3 1834.0L610.8 1834.0L612.3 1833.9L613.9 1833.9L615.4 1833.9L616.9 1833.8L618.4 1833.8L619.9 1833.8L621.4 1833.8L622.9 1833.8L624.4 1833.8L625.9 1833.9L627.4 1834.0L628.9 1834.0L630.4 1834.1L631.9 1834.3L633.4 1834.4L634.9 1834.6L636.4 1834.7L637.9 1834.9L639.4 1835.0L640.9 1835.2L642.4 1835.4L643.9 1835.6L645.4 1835.8L646.9 1835.9L648.4 1836.1L649.9 1836.3L651.4 1836.5L652.9 1836.7L654.4 1837.0L655.9 1837.2L657.4 1837.5L658.9 1837.8L660.4 1838.0L661.9 1838.3L663.4 1838.6L664.9 1838.8L666.4 1839.1L667.9 1839.3L669.4 1839.5L670.9 1839.7L672.4 1839.9L673.9 1840.1L675.4 1840.2L676.9 1840.4L678.5 1840.6L680.0 1840.7L681.5 1840.9L683.0 1841.0L684.5 1841.2L686.0 1841.3L687.5 1841.5L689.0 1841.6L690.5 1841.7L692.0 1841.8L693.5 1841.9L695.0 1841.9L696.5 1842.0L698.0 1842.0L699.5 1842.0L701.0 1842.0L702.5 1842.0L704.0 1842.0L705.5 1842.0L707.0 1842.0L708.5 1842.0L710.0 1842.0L711.5 1842.0L713.0 1842.0L714.5 1842.0L716.0 1842.0L717.5 1842.0L719.0 1842.0L720.5 1842.0L722.0 1842.0L723.5 1842.0L725.0 1842.0L726.5 1842.0L728.0 1842.0L729.5 1842.0L731.0 1842.0L732.5 1842.0L734.0 1842.0L735.5 1842.0L737.0 1842.0L738.5 1842.1L740.0 1842.2L741.5 1842.2L743.1 1842.4L744.6 1842.5L746.1 1842.6L747.6 1842.8L749.1 1842.9L750.6 1843.1L752.1 1843.2L753.6 1843.4L755.1 1843.6L756.6 1843.7L758.1 1843.9L759.6 1844.0L761.1 1844.1L762.6 1844.3L764.1 1844.4L765.6 1844.5L767.1 1844.5L768.6 1844.6L770.1 1844.6L771.6 1844.6L773.1 1844.6L774.6 1844.6L776.1 1844.5L777.6 1844.5L779.1 1844.4L780.6 1844.4L782.1 1844.3L783.6 1844.3L785.1 1844.2L786.6 1844.1L788.1 1844.1L789.6 1844.0L791.1 1844.0L792.6 1843.9L794.1 1843.9L795.6 1843.8L797.1 1843.8L798.6 1843.7L800.1 1843.7L801.6 1843.7L803.1 1843.6L804.6 1843.6L806.1 1843.6L807.7 1843.6L809.2 1843.5L810.7 1843.5L812.2 1843.5L813.7 1843.5L815.2 1843.4L816.7 1843.4L818.2 1843.4L819.7 1843.4L821.2 1843.3L822.7 1843.3L824.2 1843.3L825.7 1843.2L827.2 1843.2L828.7 1843.2L830.2 1843.1L831.7 1843.1L833.2 1843.0L834.7 1843.0L836.2 1842.9L837.7 1842.9L839.2 1842.8L840.7 1842.7L842.2 1842.7L843.7 1842.6L845.2 1842.5L846.7 1842.4L848.2 1842.3L849.7 1842.2L851.2 1842.0L852.7 1841.9L854.2 1841.8L855.7 1841.6L857.2 1841.5L858.7 1841.3L860.2 1841.2L861.7 1841.0L863.2 1840.8L864.7 1840.6L866.2 1840.3L867.7 1840.0L869.2 1839.7L870.7 1839.4L872.3 1839.1L873.8 1838.7L875.3 1838.4L876.8 1838.0L878.3 1837.7L879.8 1837.3L881.3 1836.9L882.8 1836.6L884.3 1836.2L885.8 1835.7L887.3 1835.3L888.8 1834.9L890.3 1834.4L891.8 1833.9L893.3 1833.5L894.8 1833.0L896.3 1832.5L897.8 1832.0L899.3 1831.5L900.8 1831.1L902.3 1830.6L903.8 1830.2L905.3 1829.7L906.8 1829.2L908.3 1828.7L909.8 1828.3L911.3 1827.8L912.8 1827.3L914.3 1826.8L915.8 1826.3L917.3 1825.9L918.8 1825.4L920.3 1825.0L921.8 1824.5L923.3 1824.1L924.8 1823.8L926.3 1823.4L927.8 1823.1L929.3 1822.8L930.8 1822.5L932.3 1822.3L933.8 1822.0L935.3 1821.8L936.8 1821.6L938.4 1821.3L939.9 1821.1L941.4 1820.8L942.9 1820.6L944.4 1820.3L945.9 1820.0L947.4 1819.6L948.9 1819.3L950.4 1819.0L951.9 1818.6L953.4 1818.3L954.9 1817.9L956.4 1817.6L957.9 1817.2L959.4 1816.8L960.9 1816.4L962.4 1816.0L963.9 1815.6L965.4 1815.1L966.9 1814.7L968.4 1814.3L969.9 1813.8L971.4 1813.3L972.9 1812.9L974.4 1812.4L975.9 1811.9L977.4 1811.4L978.9 1810.9L980.4 1810.4L981.9 1809.8L983.4 1809.3L984.9 1808.7L986.4 1808.1L987.9 1807.5L989.4 1806.9L990.9 1806.2L992.4 1805.5L993.9 1804.8L995.4 1804.1L996.9 1803.3L998.4 1802.5L999.9 1801.6L1001.4 1800.7L1003.0 1799.7L1004.5 1798.7L1006.0 1797.6L1007.5 1796.5L1009.0 1795.4L1010.5 1794.3L1012.0 1793.3L1013.5 1792.3L1015.0 1791.4L1016.5 1790.5L1018.0 1789.5L1019.5 1788.6L1021.0 1787.7L1022.5 1786.8L1024.0 1785.9L1025.5 1785.0L1027.0 1784.0L1028.5 1783.1L1030.0 1782.2L1031.5 1781.2L1033.0 1780.2L1034.5 1779.2L1036.0 1778.2L1037.5 1777.1L1039.0 1776.0L1040.5 1774.9L1042.0 1773.8L1043.5 1772.7L1045.0 1771.5L1046.5 1770.3L1048.0 1769.1L1049.5 1767.8L1051.0 1766.5L1052.5 1765.2L1054.0 1763.8L1055.5 1762.4L1057.0 1761.0L1058.5 1759.6L1060.0 1758.2L1061.5 1756.8L1063.0 1755.5L1064.5 1754.2L1066.0 1752.9L1067.6 1751.6L1069.1 1750.3L1070.6 1749.0L1072.1 1747.6L1073.6 1746.2L1075.1 1744.7L1076.6 1743.2L1078.1 1741.5L1079.6 1739.8L1081.1 1737.9L1082.6 1735.8L1084.1 1733.6L1085.6 1731.3L1087.1 1728.9L1088.6 1726.4L1090.1 1723.9L1091.6 1721.2L1093.1 1718.4L1094.6 1715.6L1096.1 1712.6L1097.6 1709.7L1099.1 1706.9L1100.6 1704.0L1102.1 1701.1L1103.6 1698.2L1105.1 1695.2L1106.6 1692.2L1108.1 1689.0L1109.6 1685.7L1111.1 1682.4L1112.6 1678.8L1114.1 1675.0L1115.6 1670.7L1117.1 1665.3L1118.6 1659.5L1120.1 1654.6L1121.6 1651.0L1123.1 1648.0L1124.6 1645.0L1126.1 1641.1L1127.6 1635.2L1129.1 1627.2L1130.6 1619.8L1132.2 1613.8L1133.7 1608.1L1135.2 1602.6L1136.7 1597.3L1138.2 1592.3L1139.7 1587.5L1141.2 1582.8L1142.7 1578.4L1144.2 1574.1L1145.7 1570.1L1147.2 1566.2L1148.7 1562.8L1150.2 1559.5L1151.7 1555.8L1153.2 1551.6L1154.7 1547.1L1156.2 1543.0L1157.7 1539.2L1159.2 1535.4L1160.7 1531.5L1162.2 1527.7L1163.7 1524.2L1165.2 1521.0L1166.7 1518.3L1168.2 1516.2L1169.7 1514.9L1171.2 1513.8L1172.7 1512.9L1174.2 1512.2L1175.7 1511.8L1177.2 1511.9L1178.7 1512.6L1180.2 1513.5L1181.7 1514.7L1183.2 1516.1L1184.7 1518.3L1186.2 1521.0L1187.7 1524.1L1189.2 1527.3L1190.7 1530.6L1192.2 1533.6L1193.7 1536.7L1195.2 1539.9L1196.8 1543.5L1198.3 1547.7L1199.8 1552.9L1201.3 1560.2L1202.8 1567.8L1204.3 1573.8L1205.8 1578.7L1207.3 1583.4L1208.8 1588.4L1210.3 1593.6L1211.8 1598.7L1213.3 1604.1L1214.8 1609.8L1216.3 1615.9L1217.8 1622.9L1219.3 1631.4L1220.8 1640.3L1222.3 1647.7L1223.8 1654.2L1225.3 1660.2L1226.8 1666.0L1228.3 1671.5L1229.8 1677.2L1231.3 1683.1L1232.8 1689.1L1234.3 1695.2L1235.8 1701.3L1237.3 1707.3L1238.8 1713.3L1240.3 1719.2L1241.8 1725.2L1243.3 1731.2L1244.8 1737.1L1246.3 1742.6L1247.8 1747.9L1249.3 1753.0L1250.8 1757.9L1252.3 1762.6L1253.8 1767.0L1255.3 1770.8L1256.8 1774.5L1258.3 1778.0L1259.8 1781.3L1261.3 1784.4L1262.9 1787.1L1264.4 1789.6L1265.9 1791.7L1267.4 1793.6L1268.9 1795.5L1270.4 1797.2L1271.9 1798.8L1273.4 1800.3L1274.9 1801.6L1276.4 1802.8L1277.9 1803.9L1279.4 1804.8L1280.9 1805.6L1282.4 1806.4L1283.9 1807.2L1285.4 1807.9L1286.9 1808.5L1288.4 1809.0L1289.9 1809.5L1291.4 1809.9L1292.9 1810.2L1294.4 1810.5L1295.9 1810.8L1297.4 1811.0L1298.9 1811.3L1300.4 1811.5L1301.9 1811.7L1303.4 1811.9L1304.9 1812.1L1306.4 1812.2L1307.9 1812.3L1309.4 1812.4L1310.9 1812.4L1312.4 1812.4L1313.9 1812.5L1315.4 1812.5L1316.9 1812.5L1318.4 1812.6L1319.9 1812.6L1321.4 1812.6L1322.9 1812.6L1324.4 1812.7L1325.9 1812.7L1327.5 1812.7L1329.0 1812.7L1330.5 1812.7L1332.0 1812.8L1333.5 1812.8L1335.0 1812.8L1336.5 1812.8L1338.0 1812.8L1339.5 1812.8L1341.0 1812.8L1342.5 1812.8L1344.0 1812.9L1345.5 1812.9L1347.0 1812.9L1348.5 1812.9L1350.0 1812.9L1351.5 1812.9L1353.0 1812.9L1354.5 1812.9L1356.0 1812.9L1357.5 1812.9L1359.0 1812.9" fill="none" stroke="#2CA660" stroke-width="4.3" stroke-dasharray="28.6 10.8 8 10.9" stroke-dashoffset="-20" stroke-linejoin="round"/>
<line x1="136.4" y1="2141.6" x2="154.6" y2="2141.6" stroke="#000" stroke-width="4.0"/>
<line x1="136.4" y1="1977.5" x2="154.6" y2="1977.5" stroke="#000" stroke-width="4.0"/>
<line x1="136.4" y1="1813.3" x2="154.6" y2="1813.3" stroke="#000" stroke-width="4.0"/>
<line x1="136.4" y1="1649.1" x2="154.6" y2="1649.1" stroke="#000" stroke-width="4.0"/>
<line x1="136.4" y1="1485.0" x2="154.6" y2="1485.0" stroke="#000" stroke-width="4.0"/>
<line x1="136.4" y1="2223.7" x2="145.3" y2="2223.7" stroke="#000" stroke-width="4.0"/>
<line x1="136.4" y1="2059.6" x2="145.3" y2="2059.6" stroke="#000" stroke-width="4.0"/>
<line x1="136.4" y1="1895.4" x2="145.3" y2="1895.4" stroke="#000" stroke-width="4.0"/>
<line x1="136.4" y1="1731.2" x2="145.3" y2="1731.2" stroke="#000" stroke-width="4.0"/>
<line x1="136.4" y1="1567.0" x2="145.3" y2="1567.0" stroke="#000" stroke-width="4.0"/>
<line x1="136.4" y1="1402.9" x2="145.3" y2="1402.9" stroke="#000" stroke-width="4.0"/>
<line x1="381.6" y1="2306.0" x2="381.6" y2="2287.0" stroke="#000" stroke-width="4.0"/>
<line x1="626.5" y1="2306.0" x2="626.5" y2="2287.0" stroke="#000" stroke-width="4.0"/>
<line x1="871.3" y1="2306.0" x2="871.3" y2="2287.0" stroke="#000" stroke-width="4.0"/>
<line x1="1116.2" y1="2306.0" x2="1116.2" y2="2287.0" stroke="#000" stroke-width="4.0"/>
<line x1="259.2" y1="2306.0" x2="259.2" y2="2296.0" stroke="#000" stroke-width="4.0"/>
<line x1="504.1" y1="2306.0" x2="504.1" y2="2296.0" stroke="#000" stroke-width="4.0"/>
<line x1="748.9" y1="2306.0" x2="748.9" y2="2296.0" stroke="#000" stroke-width="4.0"/>
<line x1="993.7" y1="2306.0" x2="993.7" y2="2296.0" stroke="#000" stroke-width="4.0"/>
<line x1="1238.6" y1="2306.0" x2="1238.6" y2="2296.0" stroke="#000" stroke-width="4.0"/>
<rect x="136.4" y="1321.1" width="1224.6" height="984.9" fill="none" stroke="#000" stroke-width="4.0"/>
<text class="tk" x="115.4" y="2318.1" text-anchor="end">-30</text>
<text class="tk" x="115.4" y="2153.9" text-anchor="end">-20</text>
<text class="tk" x="115.4" y="1989.8" text-anchor="end">-10</text>
<text class="tk" x="115.4" y="1825.6" text-anchor="end">0</text>
<text class="tk" x="115.4" y="1661.4" text-anchor="end">10</text>
<text class="tk" x="115.4" y="1497.3" text-anchor="end">20</text>
<text class="tk" x="115.4" y="1333.1" text-anchor="end">30</text>
<text class="tk" x="136.3" y="2360.2" text-anchor="middle">0</text>
<text class="tk" x="381.1" y="2360.2" text-anchor="middle">100</text>
<text class="tk" x="626.0" y="2360.2" text-anchor="middle">200</text>
<text class="tk" x="870.8" y="2360.2" text-anchor="middle">300</text>
<text class="tk" x="1115.7" y="2360.2" text-anchor="middle">400</text>
<text class="tk" x="1360.5" y="2360.2" text-anchor="middle">500</text>
<text class="ax" x="748.3" y="2426.3" text-anchor="middle">Thickness <tspan class="rg">(</tspan>μm<tspan class="rg">)</tspan></text>
<text class="ay" transform="translate(54.3 1789.5) rotate(-90)" text-anchor="middle">Charge desity <tspan class="rg">(</tspan>C/m<tspan class="rg" font-size="35px" dy="-21">3</tspan><tspan class="rg" dy="21" dx="1">)</tspan></text>
<line x1="169.2" y1="1379.7" x2="287.0" y2="1379.7" stroke="#4F4F4F" stroke-width="4.3"/>
<line x1="169.2" y1="1443.4" x2="287.0" y2="1443.4" stroke="#F53A3A" stroke-width="4.3" stroke-dasharray="24.3 22.4"/>
<line x1="169.2" y1="1506.1" x2="287.0" y2="1506.1" stroke="#1262E8" stroke-width="4.3" stroke-dasharray="7.4 20.2"/>
<line x1="169.2" y1="1569.0" x2="285.1" y2="1569.0" stroke="#2CA660" stroke-width="4.3" stroke-dasharray="28.6 10.8 8 10.9"/>
<text class="lg" x="297.6" y="1397.7">6 s</text>
<text class="lg" x="297.6" y="1460.2">90 s</text>
<text class="lg" x="297.6" y="1523.3">900 s</text>
<text class="lg" x="297.6" y="1586.6">1800 s</text>
<text class="lg" x="1208.5" y="1486.7">Anode</text>
<text class="lg" x="489" y="2184.8">Cathode</text>
<text class="cap" x="662" y="2545.5" text-anchor="middle">(</text><text class="cap" x="696.2" y="2545.7" text-anchor="middle" font-weight="bold" style="font-size:80px">b</text><text class="cap" x="732" y="2545.5" text-anchor="middle">)</text>
</g>
</svg></body></html>
